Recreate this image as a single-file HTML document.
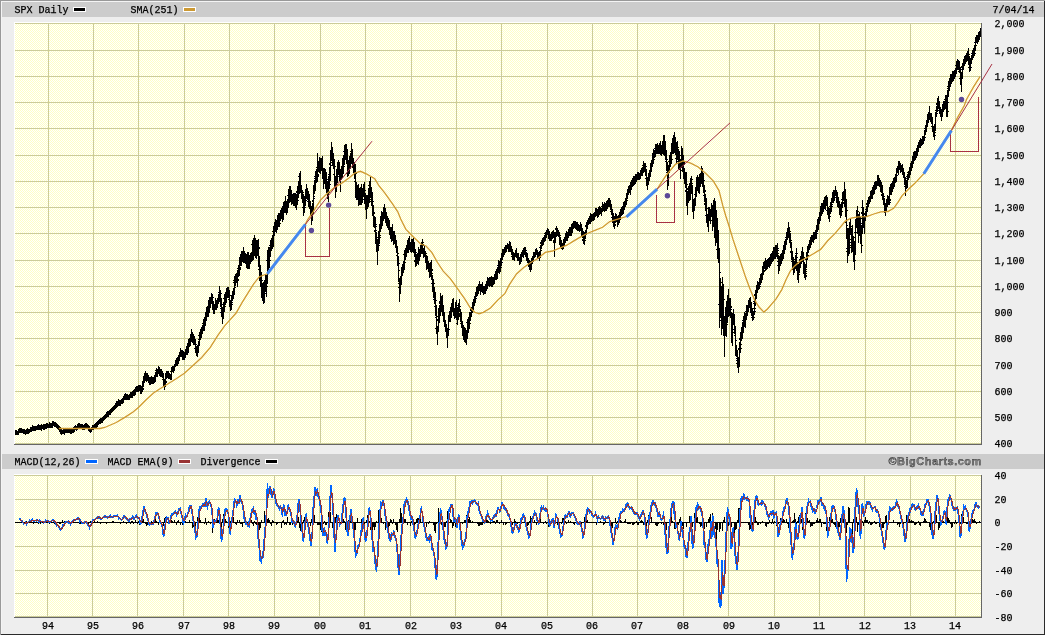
<!DOCTYPE html><html><head><meta charset="utf-8"><title>SPX Daily</title><style>
html,body{margin:0;padding:0;}
body{width:1045px;height:635px;background:#eeeeee;position:relative;overflow:hidden;font-family:"Liberation Mono","DejaVu Sans Mono",monospace;font-size:10px;color:#000;}
div{position:absolute;}
.bt{left:0;top:0;width:1045px;height:1px;background:#999;}
.bl{left:0;top:0;width:1px;height:635px;background:#999;}
.br{left:1044px;top:1px;width:1px;height:634px;background:#2a2a2a;}
.bb{left:1px;top:634px;width:1044px;height:1px;background:#2a2a2a;}
.hl1{left:1px;top:1px;width:1043px;height:1px;background:#f4f4f4;}
.hl2{left:1px;top:1px;width:1px;height:633px;background:#f4f4f4;}
.hdr{left:2px;width:1042px;height:15px;background:#cccccc;}
.plot{left:15px;width:966px;background-color:#ffffe2;background-image:conic-gradient(#fff 25%,#ffffc4 0 50%,#fff 0 75%,#ffffc4 0);background-size:2px 2px;}
.wt{background:#fff;}
.dk{background:#666;}
.t{white-space:pre;line-height:10px;height:10px;-webkit-text-stroke:0.25px #000;}
.gv{width:1px;background:#cccc99;}
.gh{height:1px;background:#cccc99;left:15px;width:966px;}
.sw{width:11px;height:3px;border:1px solid #fff;}
svg{position:absolute;left:0;top:0;}
</style></head><body>
<div class="bt"></div><div class="bl"></div><div class="hl1"></div><div class="hl2"></div><div class="br"></div><div class="bb"></div>
<div class="hdr" style="top:2px"></div><div class="hdr" style="top:454px"></div>
<div class="wt" style="left:14px;top:22px;width:967px;height:1px"></div><div class="wt" style="left:14px;top:22px;width:1px;height:422px"></div>
<div class="plot" style="top:23px;height:421px"></div>
<div class="wt" style="left:14px;top:474px;width:967px;height:1px"></div><div class="wt" style="left:14px;top:474px;width:1px;height:143px"></div>
<div class="plot" style="top:475px;height:142px"></div>
<div class="gv" style="left:48px;top:23px;height:421px"></div>
<div class="gv" style="left:93px;top:23px;height:421px"></div>
<div class="gv" style="left:138px;top:23px;height:421px"></div>
<div class="gv" style="left:184px;top:23px;height:421px"></div>
<div class="gv" style="left:229px;top:23px;height:421px"></div>
<div class="gv" style="left:274px;top:23px;height:421px"></div>
<div class="gv" style="left:320px;top:23px;height:421px"></div>
<div class="gv" style="left:365px;top:23px;height:421px"></div>
<div class="gv" style="left:411px;top:23px;height:421px"></div>
<div class="gv" style="left:456px;top:23px;height:421px"></div>
<div class="gv" style="left:501px;top:23px;height:421px"></div>
<div class="gv" style="left:547px;top:23px;height:421px"></div>
<div class="gv" style="left:592px;top:23px;height:421px"></div>
<div class="gv" style="left:637px;top:23px;height:421px"></div>
<div class="gv" style="left:683px;top:23px;height:421px"></div>
<div class="gv" style="left:729px;top:23px;height:421px"></div>
<div class="gv" style="left:774px;top:23px;height:421px"></div>
<div class="gv" style="left:819px;top:23px;height:421px"></div>
<div class="gv" style="left:865px;top:23px;height:421px"></div>
<div class="gv" style="left:910px;top:23px;height:421px"></div>
<div class="gv" style="left:955px;top:23px;height:421px"></div>
<div class="gv" style="left:47px;top:475px;height:142px"></div>
<div class="gv" style="left:92px;top:475px;height:142px"></div>
<div class="gv" style="left:137px;top:475px;height:142px"></div>
<div class="gv" style="left:183px;top:475px;height:142px"></div>
<div class="gv" style="left:228px;top:475px;height:142px"></div>
<div class="gv" style="left:274px;top:475px;height:142px"></div>
<div class="gv" style="left:319px;top:475px;height:142px"></div>
<div class="gv" style="left:364px;top:475px;height:142px"></div>
<div class="gv" style="left:410px;top:475px;height:142px"></div>
<div class="gv" style="left:455px;top:475px;height:142px"></div>
<div class="gv" style="left:501px;top:475px;height:142px"></div>
<div class="gv" style="left:547px;top:475px;height:142px"></div>
<div class="gv" style="left:592px;top:475px;height:142px"></div>
<div class="gv" style="left:637px;top:475px;height:142px"></div>
<div class="gv" style="left:683px;top:475px;height:142px"></div>
<div class="gv" style="left:728px;top:475px;height:142px"></div>
<div class="gv" style="left:774px;top:475px;height:142px"></div>
<div class="gv" style="left:819px;top:475px;height:142px"></div>
<div class="gv" style="left:864px;top:475px;height:142px"></div>
<div class="gv" style="left:910px;top:475px;height:142px"></div>
<div class="gv" style="left:955px;top:475px;height:142px"></div>
<div class="gh" style="top:23px"></div>
<div class="gh" style="top:50px"></div>
<div class="gh" style="top:76px"></div>
<div class="gh" style="top:102px"></div>
<div class="gh" style="top:128px"></div>
<div class="gh" style="top:155px"></div>
<div class="gh" style="top:181px"></div>
<div class="gh" style="top:207px"></div>
<div class="gh" style="top:233px"></div>
<div class="gh" style="top:260px"></div>
<div class="gh" style="top:286px"></div>
<div class="gh" style="top:312px"></div>
<div class="gh" style="top:338px"></div>
<div class="gh" style="top:365px"></div>
<div class="gh" style="top:391px"></div>
<div class="gh" style="top:417px"></div>
<div class="gh" style="top:443px"></div>
<div class="gh" style="top:475px"></div>
<div class="gh" style="top:499px"></div>
<div class="gh" style="top:522px"></div>
<div class="gh" style="top:546px"></div>
<div class="gh" style="top:570px"></div>
<div class="gh" style="top:593px"></div>
<div class="gh" style="top:616px"></div>
<div class="gv" style="left:14px;top:475px;height:1px"></div>
<div class="dk" style="left:981px;top:23px;width:1px;height:422px"></div><div class="dk" style="left:14px;top:444px;width:968px;height:1px"></div>
<div class="dk" style="left:981px;top:475px;width:1px;height:143px"></div><div class="dk" style="left:14px;top:617px;width:968px;height:1px"></div>
<div class="t" style="left:14.5px;top:6px;">SPX Daily</div>
<div class="sw" style="left:73px;top:7px;background:#000"></div>
<div class="t" style="left:130.5px;top:6px;">SMA(251)</div>
<div class="sw" style="left:183px;top:7px;background:#cc9933"></div>
<div class="t" style="left:992.5px;top:6px;">7/04/14</div>
<div class="t" style="left:14.5px;top:458px;">MACD(12,26)</div>
<div class="t" style="left:107.5px;top:458px;">MACD EMA(9)</div>
<div class="t" style="left:200.5px;top:458px;">Divergence</div>
<div class="sw" style="left:85px;top:459px;background:#0066ff"></div>
<div class="sw" style="left:178px;top:459px;background:#993333"></div>
<div class="sw" style="left:265px;top:459px;background:#000"></div>
<div class="t" style="left:888.5px;top:455px;font-family:'Liberation Sans',Arial,sans-serif;font-weight:bold;font-size:11px;line-height:12px;height:12px;color:#808080;letter-spacing:0.5px">&copy;BigCharts.com</div>
<div class="t" style="left:994.5px;top:20px;">2,000</div>
<div class="t" style="left:994.5px;top:47px;">1,900</div>
<div class="t" style="left:994.5px;top:73px;">1,800</div>
<div class="t" style="left:994.5px;top:99px;">1,700</div>
<div class="t" style="left:994.5px;top:125px;">1,600</div>
<div class="t" style="left:994.5px;top:152px;">1,500</div>
<div class="t" style="left:994.5px;top:178px;">1,400</div>
<div class="t" style="left:994.5px;top:204px;">1,300</div>
<div class="t" style="left:994.5px;top:230px;">1,200</div>
<div class="t" style="left:994.5px;top:257px;">1,100</div>
<div class="t" style="left:994.5px;top:283px;">1,000</div>
<div class="t" style="left:994.5px;top:309px;">900</div>
<div class="t" style="left:994.5px;top:335px;">800</div>
<div class="t" style="left:994.5px;top:362px;">700</div>
<div class="t" style="left:994.5px;top:388px;">600</div>
<div class="t" style="left:994.5px;top:414px;">500</div>
<div class="t" style="left:994.5px;top:440px;">400</div>
<div class="t" style="left:994.5px;top:472px;">40</div>
<div class="t" style="left:994.5px;top:496px;">20</div>
<div class="t" style="left:994.5px;top:519px;">0</div>
<div class="t" style="left:994.5px;top:543px;">-20</div>
<div class="t" style="left:994.5px;top:567px;">-40</div>
<div class="t" style="left:994.5px;top:590px;">-60</div>
<div class="t" style="left:994.5px;top:614px;">-80</div>
<div class="t" style="left:42.0px;top:622px;">94</div>
<div class="t" style="left:87.0px;top:622px;">95</div>
<div class="t" style="left:132.0px;top:622px;">96</div>
<div class="t" style="left:178.0px;top:622px;">97</div>
<div class="t" style="left:223.0px;top:622px;">98</div>
<div class="t" style="left:268.0px;top:622px;">99</div>
<div class="t" style="left:314.0px;top:622px;">00</div>
<div class="t" style="left:359.0px;top:622px;">01</div>
<div class="t" style="left:405.0px;top:622px;">02</div>
<div class="t" style="left:450.0px;top:622px;">03</div>
<div class="t" style="left:495.0px;top:622px;">04</div>
<div class="t" style="left:541.0px;top:622px;">05</div>
<div class="t" style="left:586.0px;top:622px;">06</div>
<div class="t" style="left:631.0px;top:622px;">07</div>
<div class="t" style="left:677.0px;top:622px;">08</div>
<div class="t" style="left:723.0px;top:622px;">09</div>
<div class="t" style="left:768.0px;top:622px;">10</div>
<div class="t" style="left:813.0px;top:622px;">11</div>
<div class="t" style="left:859.0px;top:622px;">12</div>
<div class="t" style="left:904.0px;top:622px;">13</div>
<div class="t" style="left:949.0px;top:622px;">14</div>
<svg width="1045" height="635" viewBox="0 0 1045 635"><path d="M15 430v5h1v-5zM16 430v5h1v-5zM17 431v4h1v-4zM18 429v6h1v-6zM19 428v5h1v-5zM20 428v5h1v-5zM21 428v5h1v-5zM22 429v4h1v-4zM23 429v5h1v-5zM24 429v5h1v-5zM25 430v5h1v-5zM26 429v5h1v-5zM27 428v6h1v-6zM28 429v5h1v-5zM29 429v4h1v-4zM30 427v5h1v-5zM31 427v5h1v-5zM32 425v6h1v-6zM33 426v5h1v-5zM34 426v5h1v-5zM35 426v5h1v-5zM36 426v4h1v-4zM37 425v5h1v-5zM38 424v6h1v-6zM39 425v5h1v-5zM40 425v5h1v-5zM41 424v7h1v-7zM42 425v4h1v-4zM43 424v6h1v-6zM44 424v6h1v-6zM45 424v5h1v-5zM46 423v6h1v-6zM47 423v5h1v-5zM48 424v4h1v-4zM49 422v6h1v-6zM50 423v5h1v-5zM51 423v5h1v-5zM52 421v7h1v-7zM53 421v5h1v-5zM54 422v5h1v-5zM55 422v5h1v-5zM56 423v5h1v-5zM57 424v5h1v-5zM58 425v5h1v-5zM59 426v6h1v-6zM60 427v7h1v-7zM61 429v6h1v-6zM62 430v4h1v-4zM63 429v5h1v-5zM64 429v6h1v-6zM65 429v4h1v-4zM66 429v4h1v-4zM67 428v5h1v-5zM68 428v5h1v-5zM69 428v5h1v-5zM70 429v5h1v-5zM71 429v5h1v-5zM72 428v5h1v-5zM73 427v6h1v-6zM74 426v6h1v-6zM75 425v5h1v-5zM76 426v5h1v-5zM77 424v6h1v-6zM78 423v5h1v-5zM79 423v5h1v-5zM80 424v5h1v-5zM81 424v4h1v-4zM82 424v6h1v-6zM83 425v5h1v-5zM84 424v6h1v-6zM85 423v6h1v-6zM86 423v5h1v-5zM87 424v5h1v-5zM88 425v6h1v-6zM89 426v6h1v-6zM90 428v5h1v-5zM91 427v5h1v-5zM92 425v5h1v-5zM93 425v5h1v-5zM94 424v5h1v-5zM95 423v6h1v-6zM96 422v6h1v-6zM97 421v6h1v-6zM98 420v5h1v-5zM99 419v5h1v-5zM100 418v6h1v-6zM101 418v5h1v-5zM102 417v6h1v-6zM103 416v5h1v-5zM104 415v5h1v-5zM105 414v5h1v-5zM106 412v6h1v-6zM107 411v6h1v-6zM108 411v6h1v-6zM109 410v5h1v-5zM110 409v6h1v-6zM111 408v5h1v-5zM112 407v5h1v-5zM113 406v5h1v-5zM114 405v5h1v-5zM115 403v6h1v-6zM116 401v7h1v-7zM117 401v6h1v-6zM118 399v7h1v-7zM119 400v6h1v-6zM120 400v6h1v-6zM121 399v5h1v-5zM122 398v6h1v-6zM123 396v7h1v-7zM124 394v6h1v-6zM125 393v7h1v-7zM126 394v6h1v-6zM127 394v6h1v-6zM128 395v5h1v-5zM129 394v6h1v-6zM130 392v6h1v-6zM131 392v6h1v-6zM132 391v7h1v-7zM133 390v6h1v-6zM134 389v7h1v-7zM135 387v8h1v-8zM136 386v6h1v-6zM137 386v6h1v-6zM138 385v7h1v-7zM139 385v6h1v-6zM140 385v9h1v-9zM141 386v8h1v-8zM142 381v11h1v-11zM143 376v11h1v-11zM143 388v2h1v-2zM144 373v10h1v-10zM145 371v10h1v-10zM146 373v9h1v-9zM147 373v8h1v-8zM148 375v8h1v-8zM149 377v8h1v-8zM150 377v8h1v-8zM151 376v8h1v-8zM152 377v7h1v-7zM153 377v7h1v-7zM154 375v8h1v-8zM155 370v1h1v-1zM155 372v10h1v-10zM156 368v9h1v-9zM157 369v8h1v-8zM158 366v8h1v-8zM159 367v9h1v-9zM160 369v8h1v-8zM161 369v8h1v-8zM162 371v7h1v-7zM162 379v1h1v-1zM163 373v14h1v-14zM164 379v11h1v-11zM165 373v14h1v-14zM166 371v8h1v-8zM166 381v2h1v-2zM167 371v7h1v-7zM168 371v8h1v-8zM169 373v6h1v-6zM170 371v1h1v-1zM170 374v6h1v-6zM171 367v13h1v-13zM172 366v6h1v-6zM173 366v7h1v-7zM174 364v7h1v-7zM175 360v7h1v-7zM176 358v8h1v-8zM177 357v9h1v-9zM178 355v9h1v-9zM179 352v9h1v-9zM180 348v9h1v-9zM181 350v7h1v-7zM182 350v10h1v-10zM183 351v9h1v-9zM184 352v8h1v-8zM185 349v9h1v-9zM186 346v9h1v-9zM187 343v12h1v-12zM188 339v14h1v-14zM189 338v9h1v-9zM190 334v12h1v-12zM191 329v13h1v-13zM192 332v11h1v-11zM193 334v11h1v-11zM194 336v9h1v-9zM194 348v1h1v-1zM195 339v14h1v-14zM196 344v1h1v-1zM196 346v10h1v-10zM197 345v12h1v-12zM198 335v1h1v-1zM198 339v1h1v-1zM198 341v12h1v-12zM199 332v14h1v-14zM200 329v11h1v-11zM201 327v11h1v-11zM202 323v1h1v-1zM202 325v9h1v-9zM203 319v12h1v-12zM204 317v14h1v-14zM205 312v14h1v-14zM206 307v14h1v-14zM207 306v11h1v-11zM208 300v17h1v-17zM209 297v16h1v-16zM210 297v11h1v-11zM211 293v11h1v-11zM212 294v16h1v-16zM213 297v1h1v-1zM213 301v13h1v-13zM214 304v10h1v-10zM215 298v12h1v-12zM216 300v10h1v-10zM217 298v10h1v-10zM218 292v1h1v-1zM218 294v10h1v-10zM219 286v16h1v-16zM220 290v17h1v-17zM220 308v1h1v-1zM220 312v1h1v-1zM221 293v1h1v-1zM221 298v19h1v-19zM222 304v1h1v-1zM222 307v17h1v-17zM223 298v1h1v-1zM223 302v17h1v-17zM224 294v18h1v-18zM225 292v13h1v-13zM225 306v1h1v-1zM226 288v15h1v-15zM227 287v11h1v-11zM228 287v11h1v-11zM228 299v1h1v-1zM229 290v17h1v-17zM230 295v1h1v-1zM230 300v11h1v-11zM231 295v15h1v-15zM232 291v10h1v-10zM232 302v1h1v-1zM232 304v1h1v-1zM233 280v1h1v-1zM233 282v1h1v-1zM233 288v11h1v-11zM234 276v19h1v-19zM235 274v12h1v-12zM235 287v1h1v-1zM236 273v10h1v-10zM237 268v1h1v-1zM237 270v17h1v-17zM238 265v12h1v-12zM238 279v2h1v-2zM239 257v19h1v-19zM240 254v12h1v-12zM240 267v3h1v-3zM241 251v15h1v-15zM242 251v11h1v-11zM243 247v16h1v-16zM244 251v12h1v-12zM245 253v11h1v-11zM246 254v14h1v-14zM247 252v17h1v-17zM248 252v17h1v-17zM249 255v14h1v-14zM250 253v11h1v-11zM251 244v1h1v-1zM251 252v10h1v-10zM252 240v21h1v-21zM253 238v22h1v-22zM254 235v21h1v-21zM255 238v20h1v-20zM256 240v19h1v-19zM257 240v16h1v-16zM258 239v28h1v-28zM258 269v1h1v-1zM259 247v2h1v-2zM259 256v25h1v-25zM260 265v22h1v-22zM261 272v26h1v-26zM262 280v1h1v-1zM262 283v18h1v-18zM263 282v22h1v-22zM264 280v23h1v-23zM265 274v18h1v-18zM265 293v1h1v-1zM266 260v1h1v-1zM266 275v22h1v-22zM267 250v34h1v-34zM267 286v1h1v-1zM268 247v23h1v-23zM268 272v1h1v-1zM269 245v1h1v-1zM269 247v21h1v-21zM270 240v17h1v-17zM270 260v1h1v-1zM271 238v13h1v-13zM272 231v1h1v-1zM272 235v14h1v-14zM273 226v21h1v-21zM274 222v14h1v-14zM275 219v13h1v-13zM276 220v13h1v-13zM277 215v15h1v-15zM278 213v14h1v-14zM279 213v14h1v-14zM280 210v11h1v-11zM280 223v1h1v-1zM281 208v11h1v-11zM282 206v16h1v-16zM283 202v18h1v-18zM284 201v12h1v-12zM285 196v17h1v-17zM286 201v14h1v-14zM287 195v1h1v-1zM287 199v14h1v-14zM288 189v19h1v-19zM289 186v17h1v-17zM290 186v16h1v-16zM291 190v15h1v-15zM292 194v10h1v-10zM293 193v13h1v-13zM294 193v13h1v-13zM295 193v15h1v-15zM296 191v2h1v-2zM296 194v16h1v-16zM297 186v19h1v-19zM298 176v1h1v-1zM298 181v17h1v-17zM298 200v1h1v-1zM299 173v21h1v-21zM300 171v22h1v-22zM301 185v14h1v-14zM302 190v13h1v-13zM302 207v1h1v-1zM303 192v1h1v-1zM303 194v22h1v-22zM304 196v17h1v-17zM305 189v17h1v-17zM305 207v1h1v-1zM306 184v15h1v-15zM306 200v1h1v-1zM307 188v12h1v-12zM307 201v1h1v-1zM308 191v16h1v-16zM309 194v15h1v-15zM310 201v15h1v-15zM311 206v19h1v-19zM312 200v2h1v-2zM312 203v18h1v-18zM313 185v29h1v-29zM314 176v1h1v-1zM314 178v1h1v-1zM314 180v14h1v-14zM314 196v1h1v-1zM314 198v1h1v-1zM315 171v20h1v-20zM316 167v1h1v-1zM316 169v14h1v-14zM317 153v29h1v-29zM318 161v11h1v-11zM318 174v3h1v-3zM319 157v16h1v-16zM320 158v16h1v-16zM321 158v13h1v-13zM322 156v23h1v-23zM323 168v21h1v-21zM324 168v16h1v-16zM325 169v20h1v-20zM326 172v21h1v-21zM327 179v1h1v-1zM327 181v18h1v-18zM328 174v1h1v-1zM328 176v26h1v-26zM329 163v2h1v-2zM329 167v22h1v-22zM329 192v1h1v-1zM330 150v31h1v-31zM330 184v1h1v-1zM331 142v19h1v-19zM331 162v1h1v-1zM331 165v1h1v-1zM332 147v19h1v-19zM333 153v16h1v-16zM333 174v1h1v-1zM334 159v29h1v-29zM335 166v1h1v-1zM335 176v22h1v-22zM336 169v23h1v-23zM337 162v21h1v-21zM337 184v1h1v-1zM338 160v15h1v-15zM338 176v1h1v-1zM339 162v19h1v-19zM340 169v23h1v-23zM341 166v14h1v-14zM342 158v20h1v-20zM343 151v1h1v-1zM343 155v19h1v-19zM344 145v20h1v-20zM344 166v1h1v-1zM345 144v16h1v-16zM346 144v20h1v-20zM346 173v1h1v-1zM347 149v28h1v-28zM348 160v16h1v-16zM349 156v18h1v-18zM350 151v1h1v-1zM350 153v16h1v-16zM351 143v21h1v-21zM352 149v19h1v-19zM353 158v15h1v-15zM354 162v17h1v-17zM354 181v1h1v-1zM355 164v34h1v-34zM356 173v1h1v-1zM356 182v18h1v-18zM357 185v15h1v-15zM358 184v22h1v-22zM359 188v17h1v-17zM360 187v18h1v-18zM361 184v21h1v-21zM362 188v15h1v-15zM363 184v13h1v-13zM363 199v1h1v-1zM364 182v22h1v-22zM365 190v1h1v-1zM365 193v17h1v-17zM366 195v24h1v-24zM367 195v14h1v-14zM368 185v1h1v-1zM368 188v19h1v-19zM369 181v22h1v-22zM370 177v21h1v-21zM370 199v1h1v-1zM370 201v1h1v-1zM371 187v19h1v-19zM372 192v24h1v-24zM373 201v1h1v-1zM373 205v22h1v-22zM374 212v2h1v-2zM374 216v12h1v-12zM374 230v2h1v-2zM375 217v27h1v-27zM376 224v1h1v-1zM376 226v1h1v-1zM376 230v1h1v-1zM376 232v20h1v-20zM377 237v1h1v-1zM377 239v26h1v-26zM378 231v20h1v-20zM379 224v20h1v-20zM379 245v1h1v-1zM380 216v16h1v-16zM380 235v1h1v-1zM380 237v1h1v-1zM381 211v18h1v-18zM382 212v14h1v-14zM383 207v14h1v-14zM384 204v15h1v-15zM385 208v15h1v-15zM386 212v14h1v-14zM387 216v12h1v-12zM388 218v12h1v-12zM389 220v15h1v-15zM390 227v12h1v-12zM391 227v15h1v-15zM392 224v17h1v-17zM393 231v14h1v-14zM394 231v13h1v-13zM395 235v13h1v-13zM396 240v13h1v-13zM396 255v1h1v-1zM397 246v20h1v-20zM398 253v1h1v-1zM398 256v26h1v-26zM398 283v1h1v-1zM398 287v1h1v-1zM399 263v1h1v-1zM399 270v1h1v-1zM399 278v24h1v-24zM400 276v18h1v-18zM401 267v18h1v-18zM402 264v12h1v-12zM403 254v1h1v-1zM403 261v12h1v-12zM404 250v20h1v-20zM405 248v12h1v-12zM405 262v1h1v-1zM406 245v12h1v-12zM407 240v13h1v-13zM408 238v15h1v-15zM409 236v14h1v-14zM410 242v10h1v-10zM411 239v14h1v-14zM412 239v13h1v-13zM413 238v15h1v-15zM414 242v15h1v-15zM414 260v2h1v-2zM415 249v18h1v-18zM416 252v1h1v-1zM416 254v12h1v-12zM417 253v11h1v-11zM418 247v18h1v-18zM419 249v12h1v-12zM420 245v12h1v-12zM421 242v12h1v-12zM422 239v15h1v-15zM423 242v1h1v-1zM423 244v2h1v-2zM423 248v10h1v-10zM424 246v11h1v-11zM425 251v12h1v-12zM426 253v1h1v-1zM426 255v15h1v-15zM427 256v13h1v-13zM428 261v11h1v-11zM429 263v15h1v-15zM430 262v15h1v-15zM431 260v20h1v-20zM431 283v1h1v-1zM432 269v2h1v-2zM432 273v1h1v-1zM432 275v17h1v-17zM433 279v19h1v-19zM433 299v1h1v-1zM434 283v1h1v-1zM434 287v17h1v-17zM434 306v1h1v-1zM435 292v24h1v-24zM435 317v1h1v-1zM435 328v1h1v-1zM436 300v1h1v-1zM436 305v29h1v-29zM437 316v1h1v-1zM437 319v2h1v-2zM437 326v19h1v-19zM438 308v24h1v-24zM439 301v3h1v-3zM439 305v18h1v-18zM440 293v23h1v-23zM441 296v16h1v-16zM442 295v21h1v-21zM443 305v17h1v-17zM444 312v15h1v-15zM445 320v12h1v-12zM446 324v14h1v-14zM447 328v20h1v-20zM448 315v21h1v-21zM449 311v11h1v-11zM449 329v1h1v-1zM450 307v15h1v-15zM451 303v15h1v-15zM452 299v13h1v-13zM453 298v18h1v-18zM454 308v11h1v-11zM455 302v16h1v-16zM456 300v20h1v-20zM456 323v1h1v-1zM457 305v1h1v-1zM457 307v18h1v-18zM458 303v17h1v-17zM459 299v13h1v-13zM459 313v4h1v-4zM460 306v1h1v-1zM460 309v13h1v-13zM460 323v1h1v-1zM461 312v16h1v-16zM462 321v15h1v-15zM463 325v15h1v-15zM464 327v15h1v-15zM465 328v15h1v-15zM466 322v1h1v-1zM466 330v15h1v-15zM467 319v20h1v-20zM468 317v16h1v-16zM469 312v17h1v-17zM470 309v2h1v-2zM470 312v9h1v-9zM470 323v1h1v-1zM471 307v10h1v-10zM472 302v11h1v-11zM473 299v11h1v-11zM474 296v10h1v-10zM475 292v11h1v-11zM476 287v10h1v-10zM476 298v1h1v-1zM477 286v10h1v-10zM478 284v10h1v-10zM479 281v10h1v-10zM480 284v11h1v-11zM481 284v8h1v-8zM482 282v11h1v-11zM483 286v9h1v-9zM484 286v8h1v-8zM485 284v10h1v-10zM486 281v10h1v-10zM487 277v12h1v-12zM488 278v8h1v-8zM489 277v10h1v-10zM490 277v9h1v-9zM491 276v11h1v-11zM492 277v10h1v-10zM493 277v8h1v-8zM494 274v10h1v-10zM495 271v9h1v-9zM496 269v11h1v-11zM497 265v1h1v-1zM497 267v12h1v-12zM498 260v13h1v-13zM499 261v13h1v-13zM500 258v14h1v-14zM501 253v13h1v-13zM501 267v1h1v-1zM502 249v11h1v-11zM502 262v1h1v-1zM503 249v8h1v-8zM504 247v8h1v-8zM505 245v8h1v-8zM506 245v7h1v-7zM507 243v6h1v-6zM508 244v8h1v-8zM509 241v11h1v-11zM510 242v10h1v-10zM511 246v9h1v-9zM511 256v1h1v-1zM512 249v11h1v-11zM513 252v8h1v-8zM514 253v8h1v-8zM515 250v7h1v-7zM516 248v10h1v-10zM517 253v8h1v-8zM518 253v8h1v-8zM519 257v8h1v-8zM520 254v10h1v-10zM521 252v10h1v-10zM522 250v7h1v-7zM523 248v10h1v-10zM524 247v8h1v-8zM525 247v10h1v-10zM526 250v1h1v-1zM526 252v9h1v-9zM527 253v10h1v-10zM528 258v9h1v-9zM529 260v10h1v-10zM530 261v11h1v-11zM531 258v12h1v-12zM532 256v8h1v-8zM533 252v10h1v-10zM534 252v6h1v-6zM535 249v8h1v-8zM536 248v7h1v-7zM537 250v8h1v-8zM538 252v7h1v-7zM539 247v1h1v-1zM539 251v10h1v-10zM540 242v2h1v-2zM540 245v13h1v-13zM541 240v9h1v-9zM541 250v1h1v-1zM542 238v8h1v-8zM543 237v8h1v-8zM544 233v1h1v-1zM544 235v7h1v-7zM545 232v9h1v-9zM546 230v8h1v-8zM547 228v7h1v-7zM548 229v10h1v-10zM549 231v10h1v-10zM550 234v7h1v-7zM551 232v9h1v-9zM552 231v8h1v-8zM553 230v8h1v-8zM553 240v3h1v-3zM554 232v25h1v-25zM555 228v2h1v-2zM555 232v11h1v-11zM556 226v11h1v-11zM557 228v8h1v-8zM558 230v7h1v-7zM559 232v13h1v-13zM560 235v1h1v-1zM560 237v10h1v-10zM561 240v9h1v-9zM562 243v7h1v-7zM563 239v10h1v-10zM564 237v9h1v-9zM565 233v10h1v-10zM566 231v10h1v-10zM567 232v9h1v-9zM568 229v9h1v-9zM569 227v9h1v-9zM570 227v9h1v-9zM571 224v12h1v-12zM572 223v10h1v-10zM573 221v8h1v-8zM574 221v7h1v-7zM575 221v8h1v-8zM576 222v8h1v-8zM577 222v9h1v-9zM578 224v7h1v-7zM579 225v7h1v-7zM580 222v9h1v-9zM581 224v12h1v-12zM582 228v10h1v-10zM582 239v2h1v-2zM583 231v13h1v-13zM584 232v13h1v-13zM585 225v2h1v-2zM585 230v9h1v-9zM585 240v1h1v-1zM586 222v13h1v-13zM587 220v9h1v-9zM588 218v7h1v-7zM589 216v8h1v-8zM590 213v11h1v-11zM591 214v8h1v-8zM592 214v7h1v-7zM593 213v8h1v-8zM594 212v8h1v-8zM595 208v9h1v-9zM596 208v8h1v-8zM597 209v9h1v-9zM598 207v10h1v-10zM599 206v9h1v-9zM600 207v7h1v-7zM601 206v1h1v-1zM601 208v8h1v-8zM602 202v10h1v-10zM603 204v7h1v-7zM604 202v10h1v-10zM605 203v8h1v-8zM606 201v10h1v-10zM607 200v9h1v-9zM608 198v9h1v-9zM609 198v9h1v-9zM610 200v10h1v-10zM610 211v1h1v-1zM611 204v11h1v-11zM611 217v1h1v-1zM612 209v14h1v-14zM613 213v14h1v-14zM614 216v13h1v-13zM615 213v10h1v-10zM615 224v2h1v-2zM616 214v8h1v-8zM617 216v11h1v-11zM618 215v10h1v-10zM619 212v11h1v-11zM620 209v11h1v-11zM621 207v9h1v-9zM622 206v9h1v-9zM623 202v12h1v-12zM624 201v9h1v-9zM625 198v9h1v-9zM626 193v12h1v-12zM627 189v10h1v-10zM627 200v1h1v-1zM628 186v9h1v-9zM629 185v8h1v-8zM630 182v13h1v-13zM631 180v10h1v-10zM632 178v9h1v-9zM633 176v10h1v-10zM634 176v9h1v-9zM635 174v10h1v-10zM636 174v8h1v-8zM637 172v8h1v-8zM638 172v8h1v-8zM639 173v7h1v-7zM640 170v9h1v-9zM641 168v8h1v-8zM642 165v1h1v-1zM642 167v9h1v-9zM643 161v12h1v-12zM644 163v9h1v-9zM645 163v13h1v-13zM645 178v1h1v-1zM646 166v1h1v-1zM646 169v17h1v-17zM647 177v13h1v-13zM648 173v12h1v-12zM649 170v11h1v-11zM650 163v14h1v-14zM651 160v12h1v-12zM652 153v14h1v-14zM653 149v15h1v-15zM654 148v1h1v-1zM654 150v8h1v-8zM654 159v1h1v-1zM655 144v13h1v-13zM656 144v10h1v-10zM657 143v11h1v-11zM658 145v9h1v-9zM659 143v11h1v-11zM660 141v14h1v-14zM661 145v11h1v-11zM662 141v13h1v-13zM663 135v20h1v-20zM664 135v21h1v-21zM665 141v19h1v-19zM665 161v1h1v-1zM666 150v21h1v-21zM666 172v1h1v-1zM667 159v1h1v-1zM667 162v28h1v-28zM668 161v1h1v-1zM668 165v21h1v-21zM669 155v18h1v-18zM670 152v15h1v-15zM671 143v21h1v-21zM672 138v16h1v-16zM672 159v1h1v-1zM673 135v19h1v-19zM674 132v21h1v-21zM675 137v18h1v-18zM675 158v1h1v-1zM676 142v22h1v-22zM677 141v19h1v-19zM677 161v1h1v-1zM678 147v1h1v-1zM678 149v20h1v-20zM679 151v19h1v-19zM680 155v1h1v-1zM680 159v20h1v-20zM681 146v22h1v-22zM681 170v1h1v-1zM682 148v24h1v-24zM683 155v24h1v-24zM684 162v3h1v-3zM684 168v16h1v-16zM685 172v16h1v-16zM685 190v2h1v-2zM686 172v34h1v-34zM687 184v1h1v-1zM687 188v2h1v-2zM687 191v24h1v-24zM688 186v17h1v-17zM689 183v18h1v-18zM690 178v22h1v-22zM691 176v18h1v-18zM692 179v1h1v-1zM692 183v1h1v-1zM692 185v27h1v-27zM693 199v20h1v-20zM694 194v1h1v-1zM694 198v13h1v-13zM695 187v19h1v-19zM696 177v20h1v-20zM697 175v16h1v-16zM698 177v16h1v-16zM699 174v20h1v-20zM700 173v14h1v-14zM701 166v18h1v-18zM702 168v19h1v-19zM703 173v20h1v-20zM703 195v1h1v-1zM704 180v1h1v-1zM704 185v17h1v-17zM704 203v2h1v-2zM705 190v2h1v-2zM705 194v17h1v-17zM705 215v1h1v-1zM706 198v25h1v-25zM707 208v1h1v-1zM707 214v13h1v-13zM708 207v25h1v-25zM709 207v14h1v-14zM710 209v15h1v-15zM711 203v14h1v-14zM711 220v1h1v-1zM712 205v26h1v-26zM713 200v27h1v-27zM714 198v40h1v-40zM715 201v45h1v-45zM716 210v33h1v-33zM716 249v1h1v-1zM717 218v41h1v-41zM718 230v33h1v-33zM718 304v1h1v-1zM719 248v80h1v-80zM720 272v1h1v-1zM720 278v40h1v-40zM720 320v1h1v-1zM721 282v1h1v-1zM721 286v49h1v-49zM722 277v52h1v-52zM723 284v52h1v-52zM724 299v1h1v-1zM724 316v41h1v-41zM725 307v29h1v-29zM726 301v36h1v-36zM727 295v28h1v-28zM727 324v1h1v-1zM728 289v28h1v-28zM729 298v18h1v-18zM730 298v20h1v-20zM731 306v2h1v-2zM731 309v1h1v-1zM731 312v31h1v-31zM732 313v33h1v-33zM733 309v16h1v-16zM733 329v1h1v-1zM733 332v1h1v-1zM734 314v20h1v-20zM734 335v1h1v-1zM735 326v30h1v-30zM736 340v1h1v-1zM736 345v12h1v-12zM736 358v1h1v-1zM736 360v1h1v-1zM736 363v1h1v-1zM737 350v18h1v-18zM738 348v2h1v-2zM738 357v16h1v-16zM739 338v2h1v-2zM739 342v25h1v-25zM740 332v21h1v-21zM741 327v14h1v-14zM741 344v1h1v-1zM741 348v1h1v-1zM742 320v1h1v-1zM742 322v17h1v-17zM743 316v17h1v-17zM744 312v15h1v-15zM745 311v1h1v-1zM745 313v15h1v-15zM746 305v15h1v-15zM747 305v11h1v-11zM748 300v12h1v-12zM749 298v10h1v-10zM750 297v16h1v-16zM751 302v14h1v-14zM751 317v1h1v-1zM752 308v13h1v-13zM753 301v1h1v-1zM753 303v1h1v-1zM753 308v1h1v-1zM753 311v9h1v-9zM754 294v2h1v-2zM754 299v16h1v-16zM754 317v1h1v-1zM755 290v16h1v-16zM755 308v1h1v-1zM755 311v1h1v-1zM756 285v14h1v-14zM757 281v12h1v-12zM758 282v8h1v-8zM759 278v11h1v-11zM760 274v11h1v-11zM760 286v1h1v-1zM761 273v10h1v-10zM762 266v14h1v-14zM763 262v13h1v-13zM764 261v8h1v-8zM764 270v2h1v-2zM765 258v13h1v-13zM766 260v10h1v-10zM767 259v10h1v-10zM768 258v9h1v-9zM769 257v11h1v-11zM770 254v12h1v-12zM771 253v11h1v-11zM772 251v11h1v-11zM773 247v14h1v-14zM774 247v12h1v-12zM775 245v14h1v-14zM776 245v12h1v-12zM777 243v16h1v-16zM777 261v1h1v-1zM777 265v1h1v-1zM778 248v1h1v-1zM778 250v1h1v-1zM778 253v1h1v-1zM778 255v19h1v-19zM779 256v15h1v-15zM780 254v12h1v-12zM781 253v11h1v-11zM782 250v11h1v-11zM783 245v14h1v-14zM784 241v13h1v-13zM785 237v1h1v-1zM785 239v11h1v-11zM786 232v13h1v-13zM787 228v12h1v-12zM788 222v16h1v-16zM789 227v16h1v-16zM790 231v1h1v-1zM790 233v15h1v-15zM790 251v2h1v-2zM791 240v1h1v-1zM791 242v18h1v-18zM791 261v1h1v-1zM792 251v19h1v-19zM793 257v18h1v-18zM794 259v1h1v-1zM794 261v12h1v-12zM795 253v1h1v-1zM795 255v14h1v-14zM796 248v23h1v-23zM797 253v1h1v-1zM797 257v1h1v-1zM797 262v18h1v-18zM798 264v19h1v-19zM799 259v14h1v-14zM799 274v1h1v-1zM800 256v12h1v-12zM801 251v13h1v-13zM802 247v15h1v-15zM803 252v22h1v-22zM804 257v1h1v-1zM804 262v16h1v-16zM805 259v1h1v-1zM805 264v16h1v-16zM806 252v16h1v-16zM806 269v1h1v-1zM806 271v1h1v-1zM806 273v1h1v-1zM806 275v2h1v-2zM807 246v14h1v-14zM808 244v9h1v-9zM808 255v1h1v-1zM809 240v10h1v-10zM810 237v11h1v-11zM811 235v10h1v-10zM812 235v7h1v-7zM813 232v11h1v-11zM814 232v8h1v-8zM815 230v9h1v-9zM816 225v14h1v-14zM817 219v13h1v-13zM817 233v1h1v-1zM818 217v13h1v-13zM819 212v12h1v-12zM820 206v15h1v-15zM821 203v13h1v-13zM822 203v11h1v-11zM823 200v12h1v-12zM824 197v12h1v-12zM825 196v14h1v-14zM826 195v11h1v-11zM826 210v1h1v-1zM827 197v18h1v-18zM828 207v12h1v-12zM829 206v1h1v-1zM829 208v14h1v-14zM830 202v12h1v-12zM830 216v1h1v-1zM831 198v14h1v-14zM832 192v11h1v-11zM832 204v1h1v-1zM832 206v1h1v-1zM833 190v13h1v-13zM834 190v11h1v-11zM835 186v10h1v-10zM835 197v1h1v-1zM836 190v13h1v-13zM837 192v15h1v-15zM838 197v11h1v-11zM839 201v14h1v-14zM840 204v14h1v-14zM841 199v1h1v-1zM841 202v14h1v-14zM842 192v16h1v-16zM842 211v1h1v-1zM843 191v10h1v-10zM843 202v2h1v-2zM844 182v25h1v-25zM845 189v28h1v-28zM845 222v1h1v-1zM846 199v40h1v-40zM846 248v1h1v-1zM846 251v1h1v-1zM847 210v1h1v-1zM847 225v1h1v-1zM847 228v35h1v-35zM848 228v28h1v-28zM849 222v32h1v-32zM850 219v16h1v-16zM850 239v1h1v-1zM850 242v1h1v-1zM850 245v1h1v-1zM850 247v1h1v-1zM851 226v1h1v-1zM851 228v25h1v-25zM852 225v27h1v-27zM853 236v26h1v-26zM854 232v1h1v-1zM854 237v1h1v-1zM854 241v29h1v-29zM855 217v1h1v-1zM855 219v36h1v-36zM855 260v1h1v-1zM856 210v18h1v-18zM856 232v1h1v-1zM857 206v28h1v-28zM858 211v1h1v-1zM858 214v29h1v-29zM859 212v24h1v-24zM860 217v27h1v-27zM861 207v1h1v-1zM861 212v2h1v-2zM861 218v1h1v-1zM861 223v1h1v-1zM861 225v28h1v-28zM862 200v34h1v-34zM862 245v1h1v-1zM863 207v21h1v-21zM864 213v2h1v-2zM864 216v18h1v-18zM865 209v1h1v-1zM865 211v10h1v-10zM866 203v2h1v-2zM866 206v11h1v-11zM867 200v12h1v-12zM868 197v10h1v-10zM869 196v8h1v-8zM870 191v11h1v-11zM871 190v9h1v-9zM872 187v12h1v-12zM873 185v10h1v-10zM874 182v12h1v-12zM875 181v9h1v-9zM876 181v8h1v-8zM877 175v11h1v-11zM878 175v11h1v-11zM879 178v9h1v-9zM880 180v12h1v-12zM881 182v11h1v-11zM881 194v2h1v-2zM882 185v15h1v-15zM883 193v12h1v-12zM884 196v1h1v-1zM884 198v15h1v-15zM885 203v13h1v-13zM886 199v12h1v-12zM887 195v12h1v-12zM888 196v9h1v-9zM889 187v18h1v-18zM890 184v11h1v-11zM890 199v2h1v-2zM890 202v1h1v-1zM891 183v12h1v-12zM892 181v11h1v-11zM893 178v11h1v-11zM894 177v10h1v-10zM895 174v9h1v-9zM896 168v14h1v-14zM897 166v7h1v-7zM897 175v1h1v-1zM898 161v14h1v-14zM899 161v9h1v-9zM900 163v10h1v-10zM901 165v7h1v-7zM902 164v11h1v-11zM903 168v10h1v-10zM904 172v13h1v-13zM904 186v1h1v-1zM905 177v19h1v-19zM906 176v1h1v-1zM906 178v1h1v-1zM906 180v9h1v-9zM907 172v1h1v-1zM907 174v14h1v-14zM908 171v9h1v-9zM909 167v11h1v-11zM910 163v12h1v-12zM911 161v10h1v-10zM912 156v12h1v-12zM913 152v12h1v-12zM914 151v10h1v-10zM915 151v9h1v-9zM916 148v10h1v-10zM917 145v11h1v-11zM918 142v10h1v-10zM919 140v8h1v-8zM920 138v10h1v-10zM921 139v7h1v-7zM922 136v9h1v-9zM923 136v8h1v-8zM924 128v1h1v-1zM924 130v11h1v-11zM925 125v10h1v-10zM925 137v1h1v-1zM926 120v12h1v-12zM927 114v13h1v-13zM928 112v11h1v-11zM929 106v14h1v-14zM930 113v9h1v-9zM931 113v11h1v-11zM931 126v1h1v-1zM932 117v15h1v-15zM933 126v11h1v-11zM934 124v16h1v-16zM935 110v1h1v-1zM935 112v19h1v-19zM935 132v1h1v-1zM935 135v1h1v-1zM936 103v2h1v-2zM936 106v11h1v-11zM937 98v14h1v-14zM937 113v1h1v-1zM938 96v13h1v-13zM938 110v1h1v-1zM939 101v13h1v-13zM940 107v10h1v-10zM941 109v12h1v-12zM942 104v13h1v-13zM943 101v11h1v-11zM944 99v1h1v-1zM944 101v9h1v-9zM945 95v14h1v-14zM946 95v22h1v-22zM947 86v1h1v-1zM947 88v1h1v-1zM947 90v27h1v-27zM948 81v16h1v-16zM948 102v1h1v-1zM948 111v1h1v-1zM949 78v13h1v-13zM950 74v13h1v-13zM951 74v10h1v-10zM952 71v11h1v-11zM953 71v10h1v-10zM954 70v9h1v-9zM955 65v1h1v-1zM955 68v9h1v-9zM956 61v13h1v-13zM957 59v11h1v-11zM958 60v10h1v-10zM958 71v1h1v-1zM959 61v12h1v-12zM959 78v1h1v-1zM960 67v18h1v-18zM961 66v2h1v-2zM961 69v1h1v-1zM961 72v20h1v-20zM962 63v16h1v-16zM963 59v11h1v-11zM964 56v10h1v-10zM965 55v9h1v-9zM966 53v9h1v-9zM967 51v10h1v-10zM968 48v17h1v-17zM968 67v1h1v-1zM969 54v1h1v-1zM969 56v16h1v-16zM970 58v13h1v-13zM971 53v1h1v-1zM971 55v9h1v-9zM971 67v1h1v-1zM972 50v10h1v-10zM973 48v10h1v-10zM974 42v1h1v-1zM974 45v11h1v-11zM975 37v14h1v-14zM975 53v1h1v-1zM976 35v8h1v-8zM976 45v1h1v-1zM977 35v9h1v-9zM978 32v10h1v-10zM979 31v9h1v-9zM980 28v9h1v-9z" fill="#000" shape-rendering="crispEdges"/>
<polyline points="58.8,428.5 100.0,428.5 104.7,427.5 116.2,422.5 124.8,417.4 133.4,411.7 139.2,406.7 146.4,399.5 153.5,393.0 160.0,388.7 175.8,379.0 184.4,373.2 193.0,365.4 201.7,357.5 210.3,347.4 217.5,335.9 224.6,325.9 230.4,319.4 236.1,313.0 241.9,302.9 246.5,295.4 253.7,283.9 259.4,276.7 267.3,273.8 305.4,224.3 307.4,220.0 313.1,211.8 320.3,200.3 327.5,193.2 334.6,187.4 341.8,183.1 349.0,178.1 354.7,173.1 360.5,171.3 366.2,173.8 374.8,178.8 379.1,186.0 384.9,193.2 392.0,203.2 397.8,211.8 400.7,219.0 405.9,229.4 411.7,235.2 420.3,243.8 426.0,246.0 431.8,252.4 437.5,262.5 443.2,271.1 450.3,278.6 457.5,288.7 464.6,298.7 470.4,308.0 474.7,312.3 479.0,313.8 483.3,312.3 490.5,308.0 497.7,300.1 504.8,293.7 509.4,284.7 516.5,273.9 523.7,267.5 530.9,262.5 538.1,258.2 545.2,252.4 552.4,251.0 559.6,248.1 566.8,245.2 573.9,240.9 581.1,236.6 588.3,233.0 595.5,230.2 602.6,227.3 609.8,221.6 617.0,219.4 626.4,216.5 657.1,189.1 666.1,175.5 675.6,164.1 683.1,160.9 690.7,163.2 698.2,167.0 705.8,173.6 713.4,181.1 719.0,190.6 722.8,205.7 725.8,216.0 728.7,225.0 733.0,239.4 737.3,252.3 741.6,265.2 745.9,278.1 750.2,289.6 754.5,299.6 758.8,306.8 763.9,312.1 767.5,309.0 771.8,303.9 776.1,298.9 781.8,289.6 786.1,279.5 790.4,270.9 794.7,265.9 800.5,260.9 806.2,258.0 813.4,253.7 820.6,249.4 827.7,240.8 834.9,233.6 845.4,221.1 851.1,218.0 858.2,216.8 866.7,216.6 873.8,214.0 880.8,211.9 887.9,211.5 893.6,208.3 897.8,202.7 902.1,195.6 909.2,188.5 914.6,183.6 923.8,173.7 951.4,130.5 957.1,118.4 964.2,105.7 966.6,99.3 973.7,86.6 980.0,76.7" fill="none" stroke="#d09a30" stroke-width="1.3"/>
<polyline points="305.5,224.3 305.5,256.5 329.5,256.5 329.5,207.5" fill="none" stroke="#a83344" stroke-width="1" shape-rendering="crispEdges"/>
<polyline points="656.5,195.3 656.5,222.5 674.5,222.5 674.5,181.1" fill="none" stroke="#a83344" stroke-width="1" shape-rendering="crispEdges"/>
<polyline points="950.5,130.5 950.5,151.5 978.5,151.5 978.5,96.5" fill="none" stroke="#a83344" stroke-width="1" shape-rendering="crispEdges"/>
<line x1="305.4" y1="224.3" x2="372.0" y2="141.2" stroke="#a83344" stroke-width="1"/>
<line x1="657.1" y1="189.1" x2="730.0" y2="122.9" stroke="#a83344" stroke-width="1"/>
<line x1="951.4" y1="130.5" x2="992.0" y2="64.0" stroke="#a83344" stroke-width="1"/>
<line x1="267.3" y1="273.8" x2="305.4" y2="224.3" stroke="#4488ee" stroke-width="3"/>
<line x1="626.4" y1="217.0" x2="657.1" y2="189.1" stroke="#4488ee" stroke-width="3"/>
<line x1="923.8" y1="173.7" x2="951.4" y2="130.5" stroke="#4488ee" stroke-width="3"/>
<circle cx="311.4" cy="230.5" r="2.7" fill="#5c4898"/>
<circle cx="328.6" cy="205.1" r="2.7" fill="#5c4898"/>
<circle cx="667.4" cy="195.7" r="2.7" fill="#5c4898"/>
<circle cx="961.5" cy="99.5" r="2.7" fill="#5c4898"/>
<path d="M25 521v1h1v-1zM26 521v1h1v-1zM31 521v1h1v-1zM33 523v1h1v-1zM38 523v1h1v-1zM39 521v1h1v-1zM40 523v1h1v-1zM49 523v1h1v-1zM51 521v1h1v-1zM54 523v1h1v-1zM55 523v1h1v-1zM56 523v1h1v-1zM59 523v1h1v-1zM60 523v1h1v-1zM62 520v2h1v-2zM64 521v1h1v-1zM65 521v1h1v-1zM67 521v1h1v-1zM71 521v1h1v-1zM72 521v1h1v-1zM79 523v1h1v-1zM80 523v1h1v-1zM81 523v1h1v-1zM86 523v1h1v-1zM87 523v1h1v-1zM88 523v1h1v-1zM90 521v1h1v-1zM92 520v2h1v-2zM94 521v1h1v-1zM97 521v1h1v-1zM100 523v1h1v-1zM106 523v1h1v-1zM112 521v1h1v-1zM113 521v1h1v-1zM120 523v1h1v-1zM123 521v1h1v-1zM126 523v1h1v-1zM129 521v1h1v-1zM130 523v1h1v-1zM131 521v1h1v-1zM132 521v1h1v-1zM133 523v1h1v-1zM135 520v2h1v-2zM137 523v1h1v-1zM138 521v1h1v-1zM139 523v2h1v-2zM140 523v1h1v-1zM141 520v2h1v-2zM142 518v4h1v-4zM143 519v3h1v-3zM145 523v1h1v-1zM146 523v3h1v-3zM147 523v2h1v-2zM151 521v1h1v-1zM153 521v1h1v-1zM154 520v2h1v-2zM155 519v3h1v-3zM156 521v1h1v-1zM158 523v2h1v-2zM161 523v1h1v-1zM163 523v3h1v-3zM164 518v4h1v-4zM165 517v5h1v-5zM166 520v2h1v-2zM168 523v1h1v-1zM170 518v4h1v-4zM171 520v2h1v-2zM172 521v1h1v-1zM174 520v2h1v-2zM176 523v2h1v-2zM177 521v1h1v-1zM178 520v2h1v-2zM180 523v2h1v-2zM182 523v2h1v-2zM183 523v1h1v-1zM184 520v2h1v-2zM185 521v1h1v-1zM189 520v2h1v-2zM192 523v5h1v-5zM193 523v4h1v-4zM194 523v3h1v-3zM195 523v5h1v-5zM197 517v5h1v-5zM199 517v5h1v-5zM200 520v2h1v-2zM204 523v1h1v-1zM205 518v4h1v-4zM206 523v2h1v-2zM208 521v1h1v-1zM210 523v1h1v-1zM212 523v10h1v-10zM214 519v3h1v-3zM215 521v1h1v-1zM216 520v2h1v-2zM217 519v3h1v-3zM218 520v2h1v-2zM220 523v11h1v-11zM221 523v5h1v-5zM222 519v3h1v-3zM223 514v8h1v-8zM224 513v9h1v-9zM225 519v3h1v-3zM226 521v1h1v-1zM228 523v5h1v-5zM229 523v8h1v-8zM230 521v1h1v-1zM231 518v4h1v-4zM233 517v5h1v-5zM235 523v1h1v-1zM236 523v2h1v-2zM237 520v2h1v-2zM239 520v2h1v-2zM240 523v1h1v-1zM241 523v1h1v-1zM242 523v4h1v-4zM245 523v2h1v-2zM247 523v1h1v-1zM249 519v3h1v-3zM250 518v4h1v-4zM251 520v2h1v-2zM252 523v1h1v-1zM253 523v3h1v-3zM254 521v1h1v-1zM255 523v1h1v-1zM256 523v2h1v-2zM257 523v11h1v-11zM258 523v10h1v-10zM259 523v7h1v-7zM260 523v5h1v-5zM261 520v2h1v-2zM264 511v11h1v-11zM267 519v3h1v-3zM268 518v4h1v-4zM269 520v2h1v-2zM270 523v1h1v-1zM271 523v3h1v-3zM272 520v2h1v-2zM273 521v1h1v-1zM276 523v2h1v-2zM277 523v1h1v-1zM281 523v5h1v-5zM282 521v1h1v-1zM283 520v2h1v-2zM284 523v2h1v-2zM285 523v1h1v-1zM286 523v2h1v-2zM287 517v5h1v-5zM289 523v2h1v-2zM290 523v2h1v-2zM292 523v2h1v-2zM293 521v1h1v-1zM294 523v2h1v-2zM296 519v3h1v-3zM297 516v6h1v-6zM298 517v5h1v-5zM299 523v5h1v-5zM300 523v8h1v-8zM301 523v5h1v-5zM302 523v7h1v-7zM303 520v2h1v-2zM304 517v5h1v-5zM305 514v8h1v-8zM310 523v3h1v-3zM311 519v3h1v-3zM312 507v15h1v-15zM313 513v9h1v-9zM314 515v7h1v-7zM317 523v2h1v-2zM318 523v2h1v-2zM319 523v2h1v-2zM320 523v7h1v-7zM321 523v9h1v-9zM322 523v8h1v-8zM323 523v1h1v-1zM324 521v1h1v-1zM325 523v2h1v-2zM326 523v2h1v-2zM328 512v10h1v-10zM330 512v10h1v-10zM332 523v5h1v-5zM333 523v13h1v-13zM334 523v14h1v-14zM335 517v5h1v-5zM336 514v8h1v-8zM337 516v6h1v-6zM341 519v3h1v-3zM342 515v7h1v-7zM343 519v3h1v-3zM344 521v1h1v-1zM345 523v7h1v-7zM346 523v8h1v-8zM347 523v7h1v-7zM348 520v2h1v-2zM349 517v5h1v-5zM350 514v8h1v-8zM352 523v5h1v-5zM353 523v4h1v-4zM354 523v11h1v-11zM355 523v7h1v-7zM357 518v4h1v-4zM361 519v3h1v-3zM362 519v3h1v-3zM363 523v5h1v-5zM364 523v7h1v-7zM366 520v2h1v-2zM367 515v7h1v-7zM369 521v1h1v-1zM370 523v7h1v-7zM371 523v11h1v-11zM372 523v10h1v-10zM373 523v4h1v-4zM374 523v7h1v-7zM375 523v4h1v-4zM376 521v1h1v-1zM378 510v12h1v-12zM379 509v13h1v-13zM380 513v9h1v-9zM381 518v4h1v-4zM383 523v1h1v-1zM385 523v7h1v-7zM386 523v2h1v-2zM387 523v2h1v-2zM388 523v6h1v-6zM389 523v3h1v-3zM390 519v3h1v-3zM391 520v2h1v-2zM392 523v1h1v-1zM393 519v3h1v-3zM395 523v2h1v-2zM396 523v7h1v-7zM397 523v9h1v-9zM399 519v3h1v-3zM400 508v14h1v-14zM401 513v9h1v-9zM403 513v9h1v-9zM404 519v3h1v-3zM405 519v3h1v-3zM407 523v2h1v-2zM410 523v3h1v-3zM411 521v1h1v-1zM413 523v6h1v-6zM414 523v6h1v-6zM415 523v1h1v-1zM416 519v3h1v-3zM417 518v4h1v-4zM418 518v4h1v-4zM419 519v3h1v-3zM420 518v4h1v-4zM423 523v4h1v-4zM424 523v4h1v-4zM426 523v4h1v-4zM428 523v1h1v-1zM429 521v1h1v-1zM433 523v2h1v-2zM434 523v8h1v-8zM435 523v10h1v-10zM436 523v1h1v-1zM438 508v14h1v-14zM440 517v5h1v-5zM441 523v2h1v-2zM442 523v6h1v-6zM443 523v5h1v-5zM444 523v4h1v-4zM445 523v4h1v-4zM446 521v1h1v-1zM447 511v11h1v-11zM448 513v9h1v-9zM450 519v3h1v-3zM451 520v2h1v-2zM452 523v5h1v-5zM453 523v3h1v-3zM455 523v4h1v-4zM457 519v3h1v-3zM459 523v4h1v-4zM462 523v1h1v-1zM464 520v2h1v-2zM465 520v2h1v-2zM466 515v7h1v-7zM467 515v7h1v-7zM468 519v3h1v-3zM469 517v5h1v-5zM470 520v2h1v-2zM472 521v1h1v-1zM477 523v1h1v-1zM478 523v3h1v-3zM479 523v3h1v-3zM480 523v2h1v-2zM481 523v2h1v-2zM482 523v2h1v-2zM485 519v3h1v-3zM486 520v2h1v-2zM487 520v2h1v-2zM488 521v1h1v-1zM490 523v1h1v-1zM493 521v1h1v-1zM494 521v1h1v-1zM495 523v1h1v-1zM496 520v2h1v-2zM497 520v2h1v-2zM499 523v1h1v-1zM501 520v2h1v-2zM503 523v2h1v-2zM505 523v2h1v-2zM506 523v1h1v-1zM510 523v3h1v-3zM511 523v4h1v-4zM512 523v2h1v-2zM514 519v3h1v-3zM515 521v1h1v-1zM516 523v2h1v-2zM517 523v1h1v-1zM520 519v3h1v-3zM525 523v4h1v-4zM526 523v3h1v-3zM527 523v3h1v-3zM528 523v2h1v-2zM529 521v1h1v-1zM530 516v6h1v-6zM531 518v4h1v-4zM532 520v2h1v-2zM534 520v2h1v-2zM536 523v2h1v-2zM538 523v1h1v-1zM540 518v4h1v-4zM543 523v1h1v-1zM545 521v1h1v-1zM546 523v1h1v-1zM548 523v4h1v-4zM549 523v3h1v-3zM550 521v1h1v-1zM552 520v2h1v-2zM553 523v4h1v-4zM554 521v1h1v-1zM555 517v5h1v-5zM557 523v2h1v-2zM558 523v5h1v-5zM559 523v5h1v-5zM561 523v1h1v-1zM562 518v4h1v-4zM563 518v4h1v-4zM565 521v1h1v-1zM566 523v1h1v-1zM568 520v2h1v-2zM570 521v1h1v-1zM573 523v1h1v-1zM574 523v2h1v-2zM580 523v2h1v-2zM581 523v3h1v-3zM584 517v5h1v-5zM585 517v5h1v-5zM586 518v4h1v-4zM587 520v2h1v-2zM596 523v2h1v-2zM600 521v1h1v-1zM603 523v2h1v-2zM604 523v1h1v-1zM605 521v1h1v-1zM609 523v3h1v-3zM610 523v4h1v-4zM611 523v4h1v-4zM612 523v5h1v-5zM615 518v4h1v-4zM616 523v1h1v-1zM617 521v1h1v-1zM618 517v5h1v-5zM619 519v3h1v-3zM620 520v2h1v-2zM621 521v1h1v-1zM624 521v1h1v-1zM625 519v3h1v-3zM627 523v1h1v-1zM628 523v1h1v-1zM629 523v1h1v-1zM630 523v1h1v-1zM632 523v2h1v-2zM633 523v2h1v-2zM634 523v1h1v-1zM636 521v1h1v-1zM637 523v2h1v-2zM638 523v2h1v-2zM640 521v1h1v-1zM641 520v2h1v-2zM642 521v1h1v-1zM643 523v2h1v-2zM645 523v7h1v-7zM646 523v4h1v-4zM647 520v2h1v-2zM648 515v7h1v-7zM651 517v5h1v-5zM655 523v2h1v-2zM656 523v3h1v-3zM657 523v3h1v-3zM658 523v1h1v-1zM661 523v1h1v-1zM663 523v2h1v-2zM664 523v6h1v-6zM665 523v10h1v-10zM666 523v7h1v-7zM670 514v8h1v-8zM671 516v6h1v-6zM672 521v1h1v-1zM674 523v6h1v-6zM675 523v6h1v-6zM677 523v2h1v-2zM678 523v2h1v-2zM679 519v3h1v-3zM680 517v5h1v-5zM682 523v3h1v-3zM683 523v6h1v-6zM686 523v4h1v-4zM689 516v6h1v-6zM690 520v2h1v-2zM691 523v10h1v-10zM692 523v4h1v-4zM694 513v9h1v-9zM695 510v12h1v-12zM696 517v5h1v-5zM697 517v5h1v-5zM699 523v1h1v-1zM700 523v4h1v-4zM701 523v3h1v-3zM702 523v5h1v-5zM703 523v10h1v-10zM704 523v6h1v-6zM706 523v4h1v-4zM708 519v3h1v-3zM709 517v5h1v-5zM710 514v8h1v-8zM711 523v7h1v-7zM712 513v9h1v-9zM713 523v6h1v-6zM715 523v6h1v-6zM716 523v16h1v-16zM717 523v7h1v-7zM719 523v9h1v-9zM720 523v6h1v-6zM722 523v8h1v-8zM723 520v2h1v-2zM724 517v5h1v-5zM728 523v3h1v-3zM729 523v2h1v-2zM731 523v4h1v-4zM734 523v12h1v-12zM735 523v7h1v-7zM736 523v6h1v-6zM737 520v2h1v-2zM738 508v14h1v-14zM739 508v14h1v-14zM740 512v10h1v-10zM748 523v2h1v-2zM749 523v7h1v-7zM750 523v6h1v-6zM751 523v7h1v-7zM752 523v3h1v-3zM753 514v8h1v-8zM754 514v8h1v-8zM755 517v5h1v-5zM756 521v1h1v-1zM757 523v2h1v-2zM758 523v2h1v-2zM760 523v1h1v-1zM762 521v1h1v-1zM765 523v3h1v-3zM766 523v4h1v-4zM767 523v1h1v-1zM768 523v1h1v-1zM769 520v2h1v-2zM771 523v1h1v-1zM772 519v3h1v-3zM773 523v1h1v-1zM774 521v1h1v-1zM776 523v3h1v-3zM777 523v8h1v-8zM778 523v1h1v-1zM780 518v4h1v-4zM782 519v3h1v-3zM783 519v3h1v-3zM784 520v2h1v-2zM786 519v3h1v-3zM787 523v1h1v-1zM788 523v5h1v-5zM790 523v10h1v-10zM792 521v1h1v-1zM793 520v2h1v-2zM794 513v9h1v-9zM795 519v3h1v-3zM796 523v5h1v-5zM797 521v1h1v-1zM798 517v5h1v-5zM799 515v7h1v-7zM800 518v4h1v-4zM801 519v3h1v-3zM802 523v7h1v-7zM803 523v9h1v-9zM805 513v9h1v-9zM806 514v8h1v-8zM807 518v4h1v-4zM808 521v1h1v-1zM809 520v2h1v-2zM810 523v4h1v-4zM811 523v3h1v-3zM812 523v3h1v-3zM813 523v1h1v-1zM814 523v1h1v-1zM816 520v2h1v-2zM817 518v4h1v-4zM818 521v1h1v-1zM819 519v3h1v-3zM820 519v3h1v-3zM821 523v4h1v-4zM823 523v1h1v-1zM824 523v1h1v-1zM825 523v1h1v-1zM826 523v8h1v-8zM827 523v6h1v-6zM829 517v5h1v-5zM830 519v3h1v-3zM831 515v7h1v-7zM832 519v3h1v-3zM833 523v1h1v-1zM834 523v2h1v-2zM835 523v4h1v-4zM836 523v6h1v-6zM837 523v3h1v-3zM838 523v4h1v-4zM839 523v4h1v-4zM840 518v4h1v-4zM842 517v5h1v-5zM843 519v3h1v-3zM844 523v4h1v-4zM845 523v19h1v-19zM846 523v10h1v-10zM847 523v2h1v-2zM848 507v15h1v-15zM849 508v14h1v-14zM852 523v11h1v-11zM853 519v3h1v-3zM854 509v13h1v-13zM856 517v5h1v-5zM857 523v9h1v-9zM858 523v2h1v-2zM860 523v5h1v-5zM861 512v10h1v-10zM862 521v1h1v-1zM863 523v3h1v-3zM864 520v2h1v-2zM865 517v5h1v-5zM866 520v2h1v-2zM867 520v2h1v-2zM868 523v1h1v-1zM869 521v1h1v-1zM870 523v2h1v-2zM871 523v2h1v-2zM872 523v1h1v-1zM874 521v1h1v-1zM875 523v1h1v-1zM876 523v1h1v-1zM879 523v4h1v-4zM882 523v5h1v-5zM883 523v5h1v-5zM884 523v1h1v-1zM885 516v6h1v-6zM886 515v7h1v-7zM888 517v5h1v-5zM893 520v2h1v-2zM897 523v2h1v-2zM898 523v1h1v-1zM899 523v4h1v-4zM900 523v1h1v-1zM903 523v5h1v-5zM906 515v7h1v-7zM908 518v4h1v-4zM909 519v3h1v-3zM910 521v1h1v-1zM911 520v2h1v-2zM912 521v1h1v-1zM913 521v1h1v-1zM914 523v2h1v-2zM915 523v2h1v-2zM916 523v1h1v-1zM918 521v1h1v-1zM919 523v2h1v-2zM920 523v3h1v-3zM923 521v1h1v-1zM924 518v4h1v-4zM925 519v3h1v-3zM926 521v1h1v-1zM929 523v4h1v-4zM930 523v7h1v-7zM931 523v6h1v-6zM932 523v5h1v-5zM933 521v1h1v-1zM934 512v10h1v-10zM935 513v9h1v-9zM936 515v7h1v-7zM938 523v7h1v-7zM939 523v5h1v-5zM940 523v3h1v-3zM942 520v2h1v-2zM943 521v1h1v-1zM946 516v6h1v-6zM947 515v7h1v-7zM948 518v4h1v-4zM949 520v2h1v-2zM950 523v1h1v-1zM951 523v5h1v-5zM952 523v4h1v-4zM954 523v1h1v-1zM955 520v2h1v-2zM956 523v1h1v-1zM959 523v8h1v-8zM960 523v1h1v-1zM961 514v8h1v-8zM962 516v6h1v-6zM963 517v5h1v-5zM966 523v1h1v-1zM967 523v1h1v-1zM969 523v1h1v-1zM972 519v3h1v-3zM973 520v2h1v-2zM974 519v3h1v-3zM975 521v1h1v-1zM976 523v1h1v-1zM979 521v1h1v-1z" fill="#000" shape-rendering="crispEdges"/>
<rect x="15" y="522" width="966" height="1" fill="#000" shape-rendering="crispEdges"/>
<polyline points="19.8,520.2 20.1,519.0 20.5,519.8 20.8,520.5 21.2,520.7 21.6,521.0 21.9,520.8 22.3,521.8 22.6,521.7 23.0,523.0 23.4,523.4 23.7,523.8 24.1,523.5 24.4,523.4 24.8,523.5 25.2,523.3 25.5,522.7 25.9,522.0 26.2,523.0 26.6,524.2 27.0,522.5 27.3,523.0 27.7,522.4 28.0,522.1 28.4,521.8 28.8,522.0 29.1,521.2 29.5,520.5 29.8,520.1 30.2,520.6 30.6,521.3 30.9,521.3 31.3,521.2 31.6,520.8 32.0,519.7 32.4,519.1 32.7,519.7 33.1,520.1 33.5,520.3 33.8,521.0 34.2,521.2 34.5,520.5 34.9,520.2 35.3,520.7 35.6,520.4 36.0,520.9 36.3,520.1 36.7,519.8 37.1,519.9 37.4,519.7 37.8,520.5 38.1,520.9 38.5,521.0 38.9,522.0 39.2,521.8 39.6,522.2 39.9,520.7 40.3,521.5 40.7,521.7 41.0,522.0 41.4,522.0 41.7,522.4 42.1,521.6 42.5,521.6 42.8,521.3 43.2,522.1 43.5,522.7 43.9,522.4 44.3,522.4 44.6,521.8 45.0,522.1 45.3,521.2 45.7,520.4 46.1,521.4 46.4,520.8 46.8,520.9 47.1,521.2 47.5,520.9 47.9,521.1 48.2,521.6 48.6,520.7 48.9,520.9 49.3,521.7 49.7,521.9 50.0,522.2 50.4,521.7 50.7,521.8 51.1,521.2 51.5,521.2 51.8,520.5 52.2,519.9 52.5,519.8 52.9,520.4 53.3,520.8 53.6,520.1 54.0,520.4 54.3,520.9 54.7,521.9 55.1,522.2 55.4,522.7 55.8,522.9 56.1,524.3 56.5,525.1 56.9,525.8 57.2,525.5 57.6,525.5 57.9,525.7 58.3,526.0 58.7,526.9 59.0,526.9 59.4,527.9 59.7,529.1 60.1,529.2 60.5,529.2 60.8,529.9 61.2,529.6 61.5,528.8 61.9,528.4 62.3,526.7 62.6,526.1 63.0,525.0 63.3,525.1 63.7,525.3 64.1,524.6 64.4,523.1 64.8,522.4 65.1,522.4 65.5,522.8 65.9,522.1 66.2,522.1 66.6,521.8 66.9,522.2 67.3,521.4 67.7,521.2 68.0,521.3 68.4,522.2 68.8,521.0 69.1,522.2 69.5,522.6 69.8,522.7 70.2,523.6 70.6,524.4 70.9,523.4 71.3,522.3 71.6,522.2 72.0,521.8 72.4,521.9 72.7,521.1 73.1,520.7 73.4,520.7 73.8,520.1 74.2,519.3 74.5,519.5 74.9,519.8 75.2,519.5 75.6,520.0 76.0,519.5 76.3,518.9 76.7,519.2 77.0,519.3 77.4,518.3 77.8,518.1 78.1,518.3 78.5,518.2 78.8,518.6 79.2,520.0 79.6,521.3 79.9,520.7 80.3,520.3 80.6,521.6 81.0,521.4 81.4,522.1 81.7,522.8 82.1,523.3 82.4,523.1 82.8,522.8 83.2,523.3 83.5,522.9 83.9,523.4 84.2,523.2 84.6,523.3 85.0,521.6 85.3,521.2 85.7,521.3 86.0,521.2 86.4,521.8 86.8,522.4 87.1,523.5 87.5,523.5 87.8,524.6 88.2,526.0 88.6,525.9 88.9,526.2 89.3,526.3 89.6,527.7 90.0,526.5 90.4,526.3 90.7,525.2 91.1,524.0 91.4,523.1 91.8,522.3 92.2,521.5 92.5,520.0 92.9,519.9 93.2,519.4 93.6,519.4 94.0,520.5 94.3,519.6 94.7,519.4 95.0,519.3 95.4,518.8 95.8,518.6 96.1,518.5 96.5,518.4 96.8,517.9 97.2,517.8 97.6,516.7 97.9,516.6 98.3,516.7 98.6,516.8 99.0,517.9 99.4,517.5 99.7,518.2 100.1,517.8 100.4,518.3 100.8,518.5 101.2,519.4 101.5,519.0 101.9,518.7 102.2,517.9 102.6,517.2 103.0,517.2 103.3,516.6 103.7,516.4 104.1,516.4 104.4,516.2 104.8,516.1 105.1,517.6 105.5,516.3 105.9,516.6 106.2,516.7 106.6,516.8 106.9,517.6 107.3,517.9 107.7,517.2 108.0,516.9 108.4,517.3 108.7,517.2 109.1,516.8 109.5,517.1 109.8,516.3 110.2,515.6 110.5,517.3 110.9,517.2 111.3,516.6 111.6,516.8 112.0,517.8 112.3,517.0 112.7,516.6 113.1,516.1 113.4,517.0 113.8,516.2 114.1,515.7 114.5,516.2 114.9,515.7 115.2,516.5 115.6,516.2 115.9,515.6 116.3,515.8 116.7,516.3 117.0,516.9 117.4,516.1 117.7,515.3 118.1,516.5 118.5,516.5 118.8,518.6 119.2,518.3 119.5,518.4 119.9,518.1 120.3,519.3 120.6,519.2 121.0,519.7 121.3,519.8 121.7,519.5 122.1,519.5 122.4,518.8 122.8,518.6 123.1,517.5 123.5,515.8 123.9,515.4 124.2,516.6 124.6,516.9 124.9,516.3 125.3,516.5 125.7,517.0 126.0,518.0 126.4,518.1 126.7,519.5 127.1,520.0 127.5,520.1 127.8,520.6 128.2,520.9 128.5,520.3 128.9,520.1 129.3,518.4 129.6,520.1 130.0,519.0 130.3,519.2 130.7,519.3 131.1,519.5 131.4,519.3 131.8,517.3 132.1,518.5 132.5,518.1 132.9,516.6 133.2,517.1 133.6,518.1 133.9,519.2 134.3,518.2 134.7,517.9 135.0,517.9 135.4,517.7 135.7,516.9 136.1,515.3 136.5,516.5 136.8,516.9 137.2,517.4 137.5,518.1 137.9,518.2 138.3,518.3 138.6,518.6 139.0,517.3 139.3,519.0 139.7,520.2 140.1,522.8 140.4,522.7 140.8,523.8 141.2,522.2 141.5,522.4 141.9,519.9 142.2,516.6 142.6,513.5 143.0,511.9 143.3,509.0 143.7,507.6 144.0,506.8 144.4,507.0 144.8,509.4 145.1,511.7 145.5,512.9 145.8,512.8 146.2,513.8 146.6,514.7 146.9,517.2 147.3,518.5 147.6,518.7 148.0,519.4 148.4,523.0 148.7,523.8 149.1,524.2 149.4,524.2 149.8,525.2 150.2,523.1 150.5,523.9 150.9,523.7 151.2,524.1 151.6,524.4 152.0,523.5 152.3,523.6 152.7,524.1 153.0,524.2 153.4,522.7 153.8,520.7 154.1,520.5 154.5,518.8 154.8,518.4 155.2,516.3 155.6,513.4 155.9,512.9 156.3,513.1 156.6,514.0 157.0,513.0 157.4,513.4 157.7,513.2 158.1,513.9 158.4,515.8 158.8,517.6 159.2,519.3 159.5,521.3 159.9,522.6 160.2,522.9 160.6,522.7 161.0,523.5 161.3,524.7 161.7,525.0 162.0,526.0 162.4,528.4 162.8,529.6 163.1,534.3 163.5,536.4 163.8,536.3 164.2,534.2 164.6,531.5 164.9,526.9 165.3,522.7 165.6,519.6 166.0,519.1 166.4,517.3 166.7,517.6 167.1,518.2 167.4,518.3 167.8,517.1 168.2,519.7 168.5,521.3 168.9,521.2 169.2,523.5 169.6,523.5 170.0,522.8 170.3,521.6 170.7,517.7 171.0,515.3 171.4,514.6 171.8,513.2 172.1,515.8 172.5,515.5 172.8,514.5 173.2,513.1 173.6,513.9 173.9,513.9 174.3,513.6 174.6,511.8 175.0,511.3 175.4,513.3 175.7,512.3 176.1,513.2 176.5,514.3 176.8,515.3 177.2,514.0 177.5,513.5 177.9,513.2 178.3,511.0 178.6,509.3 179.0,508.9 179.3,510.4 179.7,508.4 180.1,508.0 180.4,511.1 180.8,512.7 181.1,513.0 181.5,517.0 181.9,517.0 182.2,518.2 182.6,519.1 182.9,519.8 183.3,523.4 183.7,522.5 184.0,522.0 184.4,519.6 184.7,520.2 185.1,516.3 185.5,514.5 185.8,515.3 186.2,516.5 186.5,517.2 186.9,516.7 187.3,515.3 187.6,513.1 188.0,511.7 188.3,513.4 188.7,510.5 189.1,507.7 189.4,508.1 189.8,507.6 190.1,505.7 190.5,506.2 190.9,505.5 191.2,506.4 191.6,508.2 191.9,512.6 192.3,514.9 192.7,517.9 193.0,519.8 193.4,522.3 193.7,523.4 194.1,524.0 194.5,525.8 194.8,527.9 195.2,532.8 195.5,534.9 195.9,537.8 196.3,536.9 196.6,537.3 197.0,536.0 197.3,528.6 197.7,524.9 198.1,523.9 198.4,516.6 198.8,513.3 199.1,509.8 199.5,509.2 199.9,505.8 200.2,508.5 200.6,511.1 200.9,506.9 201.3,506.2 201.7,505.7 202.0,507.3 202.4,505.1 202.7,505.4 203.1,503.0 203.5,506.9 203.8,505.7 204.2,503.8 204.5,503.5 204.9,505.3 205.3,506.9 205.6,502.5 206.0,498.5 206.3,499.8 206.7,504.0 207.1,506.7 207.4,508.0 207.8,506.7 208.1,502.6 208.5,501.9 208.9,501.7 209.2,501.3 209.6,503.7 209.9,502.0 210.3,503.0 210.7,503.9 211.0,506.2 211.4,508.0 211.7,509.4 212.1,513.6 212.5,519.9 212.8,526.8 213.2,527.3 213.6,527.0 213.9,524.8 214.3,523.4 214.6,522.4 215.0,519.8 215.4,522.9 215.7,521.3 216.1,521.1 216.4,520.2 216.8,518.9 217.2,518.2 217.5,514.6 217.9,513.8 218.2,509.5 218.6,506.8 219.0,508.9 219.3,511.1 219.7,513.3 220.0,520.9 220.4,527.0 220.8,533.1 221.1,538.2 221.5,540.6 221.8,540.2 222.2,537.1 222.6,534.7 222.9,530.9 223.3,528.9 223.6,524.0 224.0,518.0 224.4,515.2 224.7,511.0 225.1,509.5 225.4,512.5 225.8,510.4 226.2,508.3 226.5,511.2 226.9,509.7 227.2,510.3 227.6,512.1 228.0,513.6 228.3,513.3 228.7,518.1 229.0,523.1 229.4,528.3 229.8,532.2 230.1,534.4 230.5,533.1 230.8,528.8 231.2,523.3 231.6,521.0 231.9,519.3 232.3,516.6 232.6,513.0 233.0,512.0 233.4,507.8 233.7,504.4 234.1,502.5 234.4,499.8 234.8,499.0 235.2,499.2 235.5,499.5 235.9,502.0 236.2,503.1 236.6,506.4 237.0,505.7 237.3,502.8 237.7,499.1 238.0,500.7 238.4,503.6 238.8,503.8 239.1,499.7 239.5,496.6 239.8,497.2 240.2,495.3 240.6,499.2 240.9,499.8 241.3,503.1 241.6,501.9 242.0,502.4 242.4,504.8 242.7,504.0 243.1,509.0 243.4,511.3 243.8,513.5 244.2,518.7 244.5,519.1 244.9,518.0 245.2,521.5 245.6,525.3 246.0,523.9 246.3,523.9 246.7,522.6 247.0,523.2 247.4,525.5 247.8,526.1 248.1,525.7 248.5,525.7 248.9,526.1 249.2,521.0 249.6,523.5 249.9,520.0 250.3,518.0 250.7,514.9 251.0,515.9 251.4,510.0 251.7,509.9 252.1,511.6 252.5,510.8 252.8,510.7 253.2,508.2 253.5,506.5 253.9,513.4 254.3,514.5 254.6,511.8 255.0,510.4 255.3,511.3 255.7,511.3 256.1,518.7 256.4,518.6 256.8,519.1 257.1,516.7 257.5,522.9 257.9,533.9 258.2,539.4 258.6,542.5 258.9,547.7 259.3,548.0 259.7,552.0 260.0,560.7 260.4,558.7 260.7,560.8 261.1,561.8 261.5,558.9 261.8,557.9 262.2,559.3 262.5,556.5 262.9,557.6 263.3,549.8 263.6,551.0 264.0,545.4 264.3,536.7 264.7,531.0 265.1,529.7 265.4,522.7 265.8,519.1 266.1,517.6 266.5,509.3 266.9,493.9 267.2,489.5 267.6,483.4 267.9,492.2 268.3,497.7 268.7,495.6 269.0,490.0 269.4,486.8 269.7,486.6 270.1,487.4 270.5,487.0 270.8,489.3 271.2,495.2 271.5,496.7 271.9,497.3 272.3,496.0 272.6,498.0 273.0,493.2 273.3,490.8 273.7,488.3 274.1,490.0 274.4,491.9 274.8,494.9 275.1,498.5 275.5,501.5 275.9,503.8 276.2,499.9 276.6,506.0 276.9,504.5 277.3,505.5 277.7,505.0 278.0,506.0 278.4,508.0 278.7,507.9 279.1,508.7 279.5,505.9 279.8,507.5 280.2,506.0 280.5,505.7 280.9,507.8 281.3,508.5 281.6,509.2 282.0,514.2 282.3,515.2 282.7,513.5 283.1,507.6 283.4,506.8 283.8,505.6 284.2,506.4 284.5,509.8 284.9,510.9 285.2,515.9 285.6,513.4 286.0,513.4 286.3,514.6 286.7,516.0 287.0,511.9 287.4,511.1 287.8,508.5 288.1,505.7 288.5,504.6 288.8,507.1 289.2,507.6 289.6,509.8 289.9,511.1 290.3,511.9 290.6,512.7 291.0,514.6 291.4,517.3 291.7,520.4 292.1,523.3 292.4,520.0 292.8,520.8 293.2,522.8 293.5,523.6 293.9,520.8 294.2,523.7 294.6,525.2 295.0,526.2 295.3,527.4 295.7,523.8 296.0,524.0 296.4,520.7 296.8,520.0 297.1,516.8 297.5,512.2 297.8,508.4 298.2,503.4 298.6,500.6 298.9,498.9 299.3,501.5 299.6,500.7 300.0,508.5 300.4,515.2 300.7,522.9 301.1,522.8 301.4,525.0 301.8,529.5 302.2,531.7 302.5,534.7 302.9,538.8 303.2,541.1 303.6,540.2 304.0,535.4 304.3,533.4 304.7,528.7 305.0,523.1 305.4,519.3 305.8,515.3 306.1,514.0 306.5,513.8 306.8,519.8 307.2,521.5 307.6,521.2 307.9,523.9 308.3,527.6 308.6,527.7 309.0,531.2 309.4,536.4 309.7,535.5 310.1,539.6 310.4,542.9 310.8,546.3 311.2,542.9 311.5,540.1 311.9,537.5 312.2,532.1 312.6,520.4 313.0,509.9 313.3,506.0 313.7,502.5 314.0,497.5 314.4,493.8 314.8,488.8 315.1,487.7 315.5,489.1 315.8,492.6 316.2,494.9 316.6,495.3 316.9,493.5 317.3,488.5 317.6,490.9 318.0,494.5 318.4,498.3 318.7,496.6 319.1,497.0 319.4,501.6 319.8,504.1 320.2,506.1 320.5,505.8 320.9,511.1 321.3,510.6 321.6,518.9 322.0,524.2 322.3,533.1 322.7,534.5 323.1,533.5 323.4,532.9 323.8,535.9 324.1,529.9 324.5,528.8 324.9,530.0 325.2,532.1 325.6,530.2 325.9,533.3 326.3,537.2 326.7,540.4 327.0,542.7 327.4,543.1 327.7,541.4 328.1,536.4 328.5,527.9 328.8,520.2 329.2,516.9 329.5,505.1 329.9,501.5 330.3,494.5 330.6,489.2 331.0,485.1 331.3,486.1 331.7,497.2 332.1,496.0 332.4,502.2 332.8,508.7 333.1,514.3 333.5,517.5 333.9,527.7 334.2,538.4 334.6,548.4 334.9,551.9 335.3,545.4 335.7,541.4 336.0,535.7 336.4,531.9 336.7,527.1 337.1,519.2 337.5,515.9 337.8,515.5 338.2,516.1 338.5,516.7 338.9,518.1 339.3,522.0 339.6,527.0 340.0,523.7 340.3,524.4 340.7,524.1 341.1,523.3 341.4,523.4 341.8,522.8 342.1,514.4 342.5,510.8 342.9,507.0 343.2,504.5 343.6,501.0 343.9,502.4 344.3,497.3 344.7,498.8 345.0,500.5 345.4,499.9 345.7,509.7 346.1,515.5 346.5,522.7 346.8,526.1 347.2,532.2 347.5,527.5 347.9,535.8 348.3,534.8 348.6,531.5 349.0,527.8 349.3,517.7 349.7,516.1 350.1,515.8 350.4,512.6 350.8,514.1 351.1,508.6 351.5,515.0 351.9,517.9 352.2,522.0 352.6,527.1 352.9,527.4 353.3,529.6 353.7,532.7 354.0,536.9 354.4,538.0 354.7,545.8 355.1,551.7 355.5,554.3 355.8,555.7 356.2,554.4 356.6,554.4 356.9,553.2 357.3,550.1 357.6,549.4 358.0,545.0 358.4,546.0 358.7,546.5 359.1,544.8 359.4,543.6 359.8,538.9 360.2,538.6 360.5,531.5 360.9,531.9 361.2,529.9 361.6,531.8 362.0,529.4 362.3,520.7 362.7,523.9 363.0,518.5 363.4,517.0 363.8,523.5 364.1,528.2 364.5,532.2 364.8,537.4 365.2,539.9 365.6,541.8 365.9,537.5 366.3,538.5 366.6,536.2 367.0,534.5 367.4,525.1 367.7,523.9 368.1,519.6 368.4,514.3 368.8,509.4 369.2,508.2 369.5,507.4 369.9,510.4 370.2,513.2 370.6,519.7 371.0,524.9 371.3,527.9 371.7,534.2 372.0,539.1 372.4,539.6 372.8,543.4 373.1,551.8 373.5,550.4 373.8,550.1 374.2,551.8 374.6,555.0 374.9,561.7 375.3,564.8 375.6,563.5 376.0,567.3 376.4,572.1 376.7,569.7 377.1,560.1 377.4,558.5 377.8,551.9 378.2,541.5 378.5,535.2 378.9,529.5 379.2,523.5 379.6,517.6 380.0,510.8 380.3,507.8 380.7,504.5 381.0,502.4 381.4,502.8 381.8,504.3 382.1,503.9 382.5,502.0 382.8,499.9 383.2,501.6 383.6,501.3 383.9,504.1 384.3,506.8 384.6,513.4 385.0,513.1 385.4,517.7 385.7,520.1 386.1,520.8 386.4,521.5 386.8,524.9 387.2,527.8 387.5,528.1 387.9,528.4 388.2,532.5 388.6,534.4 389.0,538.4 389.3,538.3 389.7,538.2 390.0,539.8 390.4,541.1 390.8,540.5 391.1,535.3 391.5,532.2 391.8,533.1 392.2,535.1 392.6,534.3 392.9,536.1 393.3,533.5 393.7,529.6 394.0,532.4 394.4,536.0 394.7,536.5 395.1,537.8 395.5,537.4 395.8,540.2 396.2,540.3 396.5,542.2 396.9,549.8 397.3,552.4 397.6,555.7 398.0,562.9 398.3,570.1 398.7,575.1 399.1,573.7 399.4,569.4 399.8,563.2 400.1,555.8 400.5,548.7 400.9,538.9 401.2,534.7 401.6,526.8 401.9,526.0 402.3,523.6 402.7,520.4 403.0,519.5 403.4,514.6 403.7,509.1 404.1,504.8 404.5,502.2 404.8,502.0 405.2,502.3 405.5,499.9 405.9,499.5 406.3,498.6 406.6,497.5 407.0,500.9 407.3,504.0 407.7,503.6 408.1,502.4 408.4,503.5 408.8,504.6 409.1,510.5 409.5,511.6 409.9,515.2 410.2,516.3 410.6,515.4 410.9,518.3 411.3,520.0 411.7,517.8 412.0,516.9 412.4,518.6 412.7,519.4 413.1,523.4 413.5,527.3 413.8,530.0 414.2,529.5 414.5,534.2 414.9,537.8 415.3,537.9 415.6,534.9 416.0,536.4 416.3,536.2 416.7,532.6 417.1,531.8 417.4,526.8 417.8,526.6 418.1,524.6 418.5,523.0 418.9,521.0 419.2,520.4 419.6,516.7 419.9,516.3 420.3,515.0 420.7,510.8 421.0,508.2 421.4,507.6 421.7,510.5 422.1,512.3 422.5,515.6 422.8,521.5 423.2,520.1 423.5,523.5 423.9,524.9 424.3,527.4 424.6,528.1 425.0,531.0 425.3,532.6 425.7,536.5 426.1,537.9 426.4,535.6 426.8,538.0 427.1,540.1 427.5,539.2 427.9,539.6 428.2,539.0 428.6,540.0 429.0,540.7 429.3,534.2 429.7,537.9 430.0,536.3 430.4,534.2 430.8,536.0 431.1,540.5 431.5,542.2 431.8,550.0 432.2,546.8 432.6,549.1 432.9,550.3 433.3,551.1 433.6,556.4 434.0,553.8 434.4,555.4 434.7,558.9 435.1,566.2 435.4,570.2 435.8,576.6 436.2,578.6 436.5,579.5 436.9,576.0 437.2,565.4 437.6,557.5 438.0,544.6 438.3,541.4 438.7,536.7 439.0,525.6 439.4,518.4 439.8,517.1 440.1,512.0 440.5,513.2 440.8,510.4 441.2,511.2 441.6,517.7 441.9,517.4 442.3,520.0 442.6,524.2 443.0,527.8 443.4,532.8 443.7,535.3 444.1,537.5 444.4,542.6 444.8,542.1 445.2,544.3 445.5,548.7 445.9,549.0 446.2,547.7 446.6,548.1 447.0,546.0 447.3,539.9 447.7,530.9 448.0,523.6 448.4,515.0 448.8,512.0 449.1,509.6 449.5,510.5 449.8,510.3 450.2,506.9 450.6,506.1 450.9,504.1 451.3,507.6 451.6,506.8 452.0,503.8 452.4,505.6 452.7,509.7 453.1,515.5 453.4,518.9 453.8,521.3 454.2,521.0 454.5,520.2 454.9,518.5 455.2,518.2 455.6,518.3 456.0,522.6 456.3,522.5 456.7,528.0 457.0,526.5 457.4,526.7 457.8,522.6 458.1,517.8 458.5,513.9 458.8,515.0 459.2,519.5 459.6,527.9 459.9,526.5 460.3,530.7 460.6,531.5 461.0,538.5 461.4,541.6 461.7,545.4 462.1,545.6 462.4,544.6 462.8,547.4 463.2,546.5 463.5,546.0 463.9,545.4 464.2,542.1 464.6,541.3 465.0,540.0 465.3,539.9 465.7,538.3 466.1,533.5 466.4,529.6 466.8,521.6 467.1,517.4 467.5,512.2 467.9,511.9 468.2,511.4 468.6,513.1 468.9,510.4 469.3,506.4 469.7,504.3 470.0,502.3 470.4,502.9 470.7,502.1 471.1,501.1 471.5,501.6 471.8,501.9 472.2,502.6 472.5,500.0 472.9,501.0 473.3,501.5 473.6,499.9 474.0,501.7 474.3,500.6 474.7,501.6 475.1,501.7 475.4,501.3 475.8,501.7 476.1,502.9 476.5,505.2 476.9,503.1 477.2,504.9 477.6,505.0 477.9,504.6 478.3,503.4 478.7,505.1 479.0,510.0 479.4,511.5 479.7,513.1 480.1,513.7 480.5,515.1 480.8,513.8 481.2,515.9 481.5,518.9 481.9,517.9 482.3,519.8 482.6,520.0 483.0,520.9 483.3,520.8 483.7,520.7 484.1,521.1 484.4,522.4 484.8,523.3 485.1,521.7 485.5,519.2 485.9,517.2 486.2,516.2 486.6,515.6 486.9,514.9 487.3,515.3 487.7,513.0 488.0,513.8 488.4,518.2 488.7,516.1 489.1,517.9 489.5,519.3 489.8,517.9 490.2,520.0 490.5,519.7 490.9,520.8 491.3,519.5 491.6,519.4 492.0,519.4 492.3,519.9 492.7,518.0 493.1,517.6 493.4,517.7 493.8,516.2 494.1,517.0 494.5,516.0 494.9,515.1 495.2,513.9 495.6,514.1 495.9,515.4 496.3,517.2 496.7,514.1 497.0,511.2 497.4,509.8 497.7,507.6 498.1,508.8 498.5,507.4 498.8,509.0 499.2,509.6 499.5,512.8 499.9,511.6 500.3,509.7 500.6,508.7 501.0,506.5 501.4,504.9 501.7,504.3 502.1,502.9 502.4,504.0 502.8,504.8 503.2,505.0 503.5,505.2 503.9,507.1 504.2,506.2 504.6,506.8 505.0,509.4 505.3,509.7 505.7,510.0 506.0,510.4 506.4,509.7 506.8,510.8 507.1,512.6 507.5,513.8 507.8,515.8 508.2,516.1 508.6,515.3 508.9,514.8 509.3,516.9 509.6,519.0 510.0,519.7 510.4,520.1 510.7,523.4 511.1,525.4 511.4,529.3 511.8,530.3 512.2,532.9 512.5,533.0 512.9,532.7 513.2,532.6 513.6,530.9 514.0,528.3 514.3,526.6 514.7,525.1 515.0,523.7 515.4,523.6 515.8,523.9 516.1,523.7 516.5,525.7 516.8,527.9 517.2,526.6 517.6,527.8 517.9,528.3 518.3,529.9 518.6,531.6 519.0,531.3 519.4,528.9 519.7,527.7 520.1,526.3 520.4,521.8 520.8,522.1 521.2,518.0 521.5,518.7 521.9,517.1 522.2,519.2 522.6,518.5 523.0,516.2 523.3,513.9 523.7,514.7 524.0,516.3 524.4,516.0 524.8,517.7 525.1,520.7 525.5,523.5 525.8,525.4 526.2,527.0 526.6,529.4 526.9,529.9 527.3,530.4 527.6,530.9 528.0,534.3 528.4,534.7 528.7,535.0 529.1,537.8 529.4,537.4 529.8,535.4 530.2,533.2 530.5,529.4 530.9,525.1 531.2,522.8 531.6,520.4 532.0,519.6 532.3,518.4 532.7,518.3 533.0,517.0 533.4,515.8 533.8,515.1 534.1,513.8 534.5,514.0 534.8,512.2 535.2,512.8 535.6,513.8 535.9,513.6 536.3,516.0 536.7,517.7 537.0,519.9 537.4,521.0 537.7,521.1 538.1,521.3 538.5,524.3 538.8,524.4 539.2,522.2 539.5,517.7 539.9,515.2 540.3,512.3 540.6,509.0 541.0,507.8 541.3,507.5 541.7,506.5 542.1,508.5 542.4,508.9 542.8,507.8 543.1,507.3 543.5,506.4 543.9,509.2 544.2,510.1 544.6,509.9 544.9,507.9 545.3,509.1 545.7,507.1 546.0,508.5 546.4,508.8 546.7,510.7 547.1,510.8 547.5,514.6 547.8,516.1 548.2,517.3 548.5,520.4 548.9,522.0 549.3,525.3 549.6,523.2 550.0,525.6 550.3,525.1 550.7,524.0 551.1,521.9 551.4,520.8 551.8,520.0 552.1,520.3 552.5,519.4 552.9,517.9 553.2,523.0 553.6,525.4 553.9,527.7 554.3,526.5 554.7,524.2 555.0,522.9 555.4,518.3 555.7,514.3 556.1,514.9 556.5,516.9 556.8,516.9 557.2,517.7 557.5,517.7 557.9,519.8 558.3,522.9 558.6,524.9 559.0,528.3 559.3,529.6 559.7,532.3 560.1,533.5 560.4,534.0 560.8,535.9 561.1,535.1 561.5,535.8 561.9,535.8 562.2,534.3 562.6,529.3 562.9,527.5 563.3,525.8 563.7,524.0 564.0,520.9 564.4,518.7 564.7,516.5 565.1,515.2 565.5,514.8 565.8,515.4 566.2,515.5 566.5,516.7 566.9,517.3 567.3,515.5 567.6,514.7 568.0,513.9 568.3,512.4 568.7,511.8 569.1,511.7 569.4,512.4 569.8,515.6 570.1,515.2 570.5,516.0 570.9,514.3 571.2,514.6 571.6,513.4 571.9,513.7 572.3,512.7 572.7,512.7 573.0,513.0 573.4,512.9 573.8,515.6 574.1,514.7 574.5,515.1 574.8,517.5 575.2,517.5 575.6,518.7 575.9,519.5 576.3,521.5 576.6,520.7 577.0,523.5 577.4,524.1 577.7,524.1 578.1,523.4 578.4,523.4 578.8,524.6 579.2,524.7 579.5,522.1 579.9,521.7 580.2,522.2 580.6,523.9 581.0,525.6 581.3,527.5 581.7,529.2 582.0,530.8 582.4,532.0 582.8,534.6 583.1,537.7 583.5,537.5 583.8,534.9 584.2,530.8 584.6,527.5 584.9,524.8 585.3,521.2 585.6,517.7 586.0,515.6 586.4,513.6 586.7,511.9 587.1,509.8 587.4,507.6 587.8,508.1 588.2,508.3 588.5,510.0 588.9,509.3 589.2,511.5 589.6,512.4 590.0,510.7 590.3,511.9 590.7,511.2 591.0,511.9 591.4,514.0 591.8,514.1 592.1,515.4 592.5,514.7 592.8,515.4 593.2,517.2 593.6,517.4 593.9,516.9 594.3,515.3 594.6,517.0 595.0,514.9 595.4,513.6 595.7,514.7 596.1,515.5 596.4,517.0 596.8,518.2 597.2,519.0 597.5,520.0 597.9,518.4 598.2,516.3 598.6,517.2 599.0,517.3 599.3,518.2 599.7,517.8 600.0,518.2 600.4,519.2 600.8,518.7 601.1,518.1 601.5,516.7 601.8,516.3 602.2,516.0 602.6,516.5 602.9,516.4 603.3,519.3 603.6,518.4 604.0,521.1 604.4,518.9 604.7,518.9 605.1,519.7 605.4,518.5 605.8,517.4 606.2,517.9 606.5,517.8 606.9,517.8 607.2,517.9 607.6,518.5 608.0,518.2 608.3,514.9 608.7,516.7 609.1,517.4 609.4,519.3 609.8,521.9 610.1,524.3 610.5,529.1 610.9,529.7 611.2,532.8 611.6,534.9 611.9,536.5 612.3,538.4 612.7,541.5 613.0,544.2 613.4,544.4 613.7,540.9 614.1,539.3 614.5,534.1 614.8,530.9 615.2,527.1 615.5,526.3 615.9,525.0 616.3,526.8 616.6,527.7 617.0,528.5 617.3,528.9 617.7,528.8 618.1,524.8 618.4,523.0 618.8,521.2 619.1,518.4 619.5,518.7 619.9,516.9 620.2,513.2 620.6,512.2 620.9,512.9 621.3,511.4 621.7,511.8 622.0,512.0 622.4,513.1 622.7,510.4 623.1,511.2 623.5,510.4 623.8,510.7 624.2,510.1 624.5,510.7 624.9,509.3 625.3,507.4 625.6,506.9 626.0,504.9 626.3,504.8 626.7,505.2 627.1,504.1 627.4,502.3 627.8,503.8 628.1,505.8 628.5,505.0 628.9,506.5 629.2,508.1 629.6,506.5 629.9,508.4 630.3,508.1 630.7,508.3 631.0,508.9 631.4,506.9 631.7,506.5 632.1,508.4 632.5,509.2 632.8,511.0 633.2,511.9 633.5,512.6 633.9,513.0 634.3,513.5 634.6,514.1 635.0,514.5 635.3,513.2 635.7,511.8 636.1,513.8 636.4,513.8 636.8,514.1 637.1,512.4 637.5,513.8 637.9,515.9 638.2,517.2 638.6,518.0 638.9,518.8 639.3,519.4 639.7,520.6 640.0,516.7 640.4,516.4 640.7,517.1 641.1,514.7 641.5,515.3 641.8,513.7 642.2,512.2 642.5,511.1 642.9,510.8 643.3,511.3 643.6,514.1 644.0,515.0 644.4,515.3 644.7,516.6 645.1,523.0 645.4,527.1 645.8,530.5 646.2,534.6 646.5,537.8 646.9,537.5 647.2,536.2 647.6,532.6 648.0,531.3 648.3,527.9 648.7,522.9 649.0,518.1 649.4,518.7 649.8,516.6 650.1,512.3 650.5,510.7 650.8,508.4 651.2,505.4 651.6,504.5 651.9,501.6 652.3,504.4 652.6,501.4 653.0,501.7 653.4,502.7 653.7,501.6 654.1,502.4 654.4,504.3 654.8,504.8 655.2,503.5 655.5,504.7 655.9,507.3 656.2,507.7 656.6,507.9 657.0,511.3 657.3,512.1 657.7,512.8 658.0,517.0 658.4,515.6 658.8,514.7 659.1,514.3 659.5,513.0 659.8,514.4 660.2,516.8 660.6,518.6 660.9,519.8 661.3,520.1 661.6,518.5 662.0,520.3 662.4,518.1 662.7,518.0 663.1,516.8 663.4,511.4 663.8,515.9 664.2,516.5 664.5,526.0 664.9,528.2 665.2,535.1 665.6,536.8 666.0,543.6 666.3,550.3 666.7,553.8 667.0,552.9 667.4,553.4 667.8,553.5 668.1,546.0 668.5,537.9 668.8,529.3 669.2,526.3 669.6,519.4 669.9,522.0 670.3,518.9 670.6,511.8 671.0,510.2 671.4,506.5 671.7,504.5 672.1,504.8 672.4,504.2 672.8,500.8 673.2,501.9 673.5,504.4 673.9,503.8 674.2,513.8 674.6,511.7 675.0,516.8 675.3,521.1 675.7,525.9 676.0,528.3 676.4,525.2 676.8,526.6 677.1,525.3 677.5,534.4 677.8,532.1 678.2,534.2 678.6,537.2 678.9,535.9 679.3,540.6 679.6,537.4 680.0,536.1 680.4,530.9 680.7,525.4 681.1,520.8 681.5,523.2 681.8,527.5 682.2,532.0 682.5,527.0 682.9,532.3 683.3,539.8 683.6,545.3 684.0,546.0 684.3,545.9 684.7,547.3 685.1,546.6 685.4,548.1 685.8,548.3 686.1,557.4 686.5,553.8 686.9,557.8 687.2,555.6 687.6,550.9 687.9,547.3 688.3,540.5 688.7,536.9 689.0,535.7 689.4,529.4 689.7,527.6 690.1,529.5 690.5,521.4 690.8,515.6 691.2,518.6 691.5,528.3 691.9,538.0 692.3,545.0 692.6,548.9 693.0,545.3 693.3,547.7 693.7,543.3 694.1,540.2 694.4,528.4 694.8,526.0 695.1,518.3 695.5,517.7 695.9,507.5 696.2,506.8 696.6,508.3 696.9,505.0 697.3,511.0 697.7,509.0 698.0,504.7 698.4,505.4 698.7,509.9 699.1,506.9 699.5,505.7 699.8,508.3 700.2,506.6 700.5,508.7 700.9,512.1 701.3,510.0 701.6,512.2 702.0,513.9 702.3,516.3 702.7,519.6 703.1,527.1 703.4,528.7 703.8,538.7 704.1,543.5 704.5,548.2 704.9,546.9 705.2,547.7 705.6,554.7 705.9,559.7 706.3,558.2 706.7,560.9 707.0,562.3 707.4,557.5 707.7,551.3 708.1,545.2 708.5,542.3 708.8,544.1 709.2,539.1 709.5,536.5 709.9,535.4 710.3,528.1 710.6,525.4 711.0,520.6 711.3,526.2 711.7,538.6 712.1,532.1 712.4,516.6 712.8,515.7 713.1,521.2 713.5,527.2 713.9,533.3 714.2,534.6 714.6,526.1 714.9,538.0 715.3,534.3 715.7,547.1 716.0,542.4 716.4,540.8 716.8,561.4 717.1,563.7 717.5,558.4 717.8,564.7 718.2,567.3 718.6,576.0 718.9,602.0 719.3,602.3 719.6,606.6 720.0,606.9 720.4,591.9 720.7,599.3 721.1,605.8 721.4,597.2 721.8,573.4 722.2,560.4 722.5,560.4 722.9,582.4 723.2,593.7 723.6,593.2 724.0,583.6 724.3,571.6 724.7,568.7 725.0,564.9 725.4,556.0 725.8,541.0 726.1,534.5 726.5,527.7 726.8,521.3 727.2,511.8 727.6,508.9 727.9,509.5 728.3,509.7 728.6,513.4 729.0,517.4 729.4,517.0 729.7,516.7 730.1,520.6 730.4,531.6 730.8,541.1 731.2,548.4 731.5,548.6 731.9,546.5 732.2,543.3 732.6,532.6 733.0,528.8 733.3,528.3 733.7,530.8 734.0,536.3 734.4,538.5 734.8,545.4 735.1,554.1 735.5,560.7 735.8,560.7 736.2,563.8 736.6,566.1 736.9,569.5 737.3,566.7 737.6,563.7 738.0,557.7 738.4,547.3 738.7,538.3 739.1,530.3 739.4,526.8 739.8,514.1 740.2,509.5 740.5,504.0 740.9,501.4 741.2,498.2 741.6,499.7 742.0,496.2 742.3,500.0 742.7,496.1 743.0,500.1 743.4,494.3 743.8,494.1 744.1,500.0 744.5,495.8 744.8,498.8 745.2,498.2 745.6,497.6 745.9,497.8 746.3,497.8 746.6,497.9 747.0,500.0 747.4,499.0 747.7,498.0 748.1,499.6 748.4,499.4 748.8,499.1 749.2,501.7 749.5,504.1 749.9,510.7 750.2,518.0 750.6,518.0 751.0,521.0 751.3,526.2 751.7,528.6 752.0,530.1 752.4,531.4 752.8,531.5 753.1,528.2 753.5,522.9 753.9,516.4 754.2,509.9 754.6,503.9 754.9,501.7 755.3,499.9 755.7,497.4 756.0,496.8 756.4,497.5 756.7,496.3 757.1,497.0 757.5,500.2 757.8,501.7 758.2,504.4 758.5,504.8 758.9,504.6 759.3,504.7 759.6,503.8 760.0,503.8 760.3,502.3 760.7,503.9 761.1,504.6 761.4,502.9 761.8,500.4 762.1,503.0 762.5,503.5 762.9,502.2 763.2,502.1 763.6,503.3 763.9,503.0 764.3,504.3 764.7,504.6 765.0,506.1 765.4,506.6 765.7,505.5 766.1,508.9 766.5,511.3 766.8,514.6 767.2,514.7 767.5,513.8 767.9,514.7 768.3,517.6 768.6,518.2 769.0,517.0 769.3,516.5 769.7,513.1 770.1,514.4 770.4,512.9 770.8,512.0 771.1,513.0 771.5,512.5 771.9,514.4 772.2,514.0 772.6,514.1 772.9,510.5 773.3,513.2 773.7,516.1 774.0,517.6 774.4,516.7 774.7,514.4 775.1,512.6 775.5,512.5 775.8,512.9 776.2,512.5 776.5,514.4 776.9,517.5 777.3,527.1 777.6,530.8 778.0,535.1 778.3,537.4 778.7,534.4 779.1,534.1 779.4,533.1 779.8,528.0 780.1,524.9 780.5,522.4 780.9,521.8 781.2,519.7 781.6,519.6 781.9,520.3 782.3,517.9 782.7,513.7 783.0,511.9 783.4,511.6 783.7,510.3 784.1,507.9 784.5,508.7 784.8,507.7 785.2,506.5 785.5,501.2 785.9,501.5 786.3,499.5 786.6,501.2 787.0,498.5 787.3,500.7 787.7,503.3 788.1,502.8 788.4,502.9 788.8,509.7 789.2,514.8 789.5,519.4 789.9,525.5 790.2,532.6 790.6,537.4 791.0,541.7 791.3,546.0 791.7,554.2 792.0,557.6 792.4,558.3 792.8,555.3 793.1,551.1 793.5,551.1 793.8,549.4 794.2,543.0 794.6,539.3 794.9,533.4 795.3,524.6 795.6,522.5 796.0,526.2 796.4,532.4 796.7,533.8 797.1,539.3 797.4,538.1 797.8,538.8 798.2,537.1 798.5,533.5 798.9,528.6 799.2,525.0 799.6,520.9 800.0,517.4 800.3,515.4 800.7,517.0 801.0,516.2 801.4,510.7 801.8,506.9 802.1,512.1 802.5,517.8 802.8,523.9 803.2,527.3 803.6,532.3 803.9,536.8 804.3,537.9 804.6,538.0 805.0,534.2 805.4,527.1 805.7,520.8 806.1,515.3 806.4,511.0 806.8,508.4 807.2,506.0 807.5,502.8 807.9,502.3 808.2,501.7 808.6,500.1 809.0,501.6 809.3,501.6 809.7,501.9 810.0,501.4 810.4,500.9 810.8,503.9 811.1,506.3 811.5,505.5 811.8,508.1 812.2,507.4 812.6,509.1 812.9,510.9 813.3,510.1 813.6,511.2 814.0,511.4 814.4,508.3 814.7,510.9 815.1,513.9 815.4,512.5 815.8,512.0 816.2,509.1 816.5,508.5 816.9,506.9 817.2,505.3 817.6,504.3 818.0,500.4 818.3,502.7 818.7,501.5 819.0,501.1 819.4,503.5 819.8,501.9 820.1,498.8 820.5,500.2 820.8,497.1 821.2,500.0 821.6,501.8 821.9,505.9 822.3,504.5 822.6,503.6 823.0,503.7 823.4,504.5 823.7,504.5 824.1,508.6 824.5,509.4 824.8,505.7 825.2,509.0 825.5,511.5 825.9,510.7 826.3,514.4 826.6,517.8 827.0,525.2 827.3,527.6 827.7,529.5 828.1,535.7 828.4,535.3 828.8,531.6 829.1,529.5 829.5,527.1 829.9,522.0 830.2,522.0 830.6,517.8 830.9,518.2 831.3,511.4 831.7,507.6 832.0,508.1 832.4,506.6 832.7,507.4 833.1,506.4 833.5,508.2 833.8,509.0 834.2,505.7 834.5,506.9 834.9,510.5 835.3,512.8 835.6,516.7 836.0,517.2 836.3,521.0 836.7,525.2 837.1,528.9 837.4,529.8 837.8,528.1 838.1,531.3 838.5,535.2 838.9,535.6 839.2,535.7 839.6,537.4 839.9,539.9 840.3,537.7 840.7,531.8 841.0,527.2 841.4,522.7 841.7,518.6 842.1,515.2 842.5,512.2 842.8,510.6 843.2,506.2 843.5,519.4 843.9,510.3 844.3,518.9 844.6,520.7 845.0,523.7 845.3,529.0 845.7,541.5 846.1,561.0 846.4,581.5 846.8,579.1 847.1,574.2 847.5,571.4 847.9,570.5 848.2,568.8 848.6,558.7 848.9,543.9 849.3,537.6 849.7,528.1 850.0,528.3 850.4,536.7 850.7,541.7 851.1,537.3 851.5,528.7 851.8,533.9 852.2,542.9 852.5,539.0 852.9,552.9 853.3,551.4 853.6,553.2 854.0,544.5 854.3,534.2 854.7,524.3 855.1,512.8 855.4,500.5 855.8,494.1 856.1,494.0 856.5,487.7 856.9,491.0 857.2,491.3 857.6,493.7 857.9,505.8 858.3,506.6 858.7,506.3 859.0,509.4 859.4,517.4 859.7,526.5 860.1,535.2 860.5,539.1 860.8,535.2 861.2,519.0 861.6,505.6 861.9,505.4 862.3,503.4 862.6,504.8 863.0,507.1 863.4,514.6 863.7,517.0 864.1,514.9 864.4,515.1 864.8,511.2 865.2,511.1 865.5,509.1 865.9,504.9 866.2,504.8 866.6,502.5 867.0,502.9 867.3,501.2 867.7,501.2 868.0,501.9 868.4,503.2 868.8,503.0 869.1,504.7 869.5,502.6 869.8,501.9 870.2,503.8 870.6,504.8 870.9,506.9 871.3,506.6 871.6,507.2 872.0,509.3 872.4,510.1 872.7,507.7 873.1,507.9 873.4,509.3 873.8,507.6 874.2,507.1 874.5,507.1 874.9,506.3 875.2,508.3 875.6,510.7 876.0,510.0 876.3,510.3 876.7,512.7 877.0,510.6 877.4,508.9 877.8,512.7 878.1,512.8 878.5,514.3 878.8,517.0 879.2,515.1 879.6,519.3 879.9,521.7 880.3,523.1 880.6,527.0 881.0,527.9 881.4,531.1 881.7,534.5 882.1,535.5 882.4,535.8 882.8,539.4 883.2,543.0 883.5,544.6 883.9,547.0 884.2,548.5 884.6,548.8 885.0,547.5 885.3,542.9 885.7,539.0 886.0,533.2 886.4,527.2 886.8,524.7 887.1,523.3 887.5,523.4 887.8,523.9 888.2,521.9 888.6,520.2 888.9,516.1 889.3,510.3 889.6,508.0 890.0,507.1 890.4,507.5 890.7,510.0 891.1,508.9 891.4,509.6 891.8,508.8 892.2,509.4 892.5,508.6 892.9,506.7 893.2,509.7 893.6,508.5 894.0,507.0 894.3,507.1 894.7,507.5 895.0,507.8 895.4,506.6 895.8,505.0 896.1,503.1 896.5,499.3 896.9,501.9 897.2,503.0 897.6,505.1 897.9,505.8 898.3,506.6 898.7,505.8 899.0,508.4 899.4,510.0 899.7,512.5 900.1,513.4 900.5,516.0 900.8,518.1 901.2,517.7 901.5,521.1 901.9,522.5 902.3,523.1 902.6,525.4 903.0,526.9 903.3,528.8 903.7,532.4 904.1,534.1 904.4,537.8 904.8,539.2 905.1,541.0 905.5,540.9 905.9,538.7 906.2,533.5 906.6,530.4 906.9,525.1 907.3,521.4 907.7,519.0 908.0,516.8 908.4,514.2 908.7,513.7 909.1,512.6 909.5,511.4 909.8,510.1 910.2,510.8 910.5,509.0 910.9,509.6 911.3,505.9 911.6,507.5 912.0,505.4 912.3,506.1 912.7,505.0 913.1,505.7 913.4,505.0 913.8,505.8 914.1,505.2 914.5,507.3 914.9,508.5 915.2,508.2 915.6,508.4 915.9,509.8 916.3,509.6 916.7,509.7 917.0,507.3 917.4,507.7 917.7,506.6 918.1,507.7 918.5,505.2 918.8,506.0 919.2,506.8 919.5,508.4 919.9,509.1 920.3,509.8 920.6,511.7 921.0,513.6 921.3,514.8 921.7,513.2 922.1,515.2 922.4,514.8 922.8,510.8 923.1,512.1 923.5,513.4 923.9,511.6 924.2,508.8 924.6,507.0 924.9,504.7 925.3,504.3 925.7,504.3 926.0,503.2 926.4,502.2 926.7,500.2 927.1,500.7 927.5,500.6 927.8,501.4 928.2,498.9 928.5,500.2 928.9,503.8 929.3,506.0 929.6,506.8 930.0,509.7 930.3,513.3 930.7,516.1 931.1,521.5 931.4,524.9 931.8,527.0 932.1,534.0 932.5,536.1 932.9,536.0 933.2,539.2 933.6,536.4 934.0,533.5 934.3,528.3 934.7,521.5 935.0,513.8 935.4,509.2 935.8,504.7 936.1,502.6 936.5,500.3 936.8,497.0 937.2,494.7 937.6,496.0 937.9,498.4 938.3,502.9 938.6,509.4 939.0,512.8 939.4,515.9 939.7,519.2 940.1,520.3 940.4,522.6 940.8,524.6 941.2,524.0 941.5,521.2 941.9,521.8 942.2,520.4 942.6,517.5 943.0,516.5 943.3,515.3 943.7,515.8 944.0,511.4 944.4,513.1 944.8,511.4 945.1,510.7 945.5,518.4 945.8,523.8 946.2,524.2 946.6,520.0 946.9,512.5 947.3,505.1 947.6,501.5 948.0,499.8 948.4,497.7 948.7,498.2 949.1,497.5 949.4,496.0 949.8,495.2 950.2,495.3 950.5,497.8 950.9,498.8 951.2,499.6 951.6,501.4 952.0,506.1 952.3,505.0 952.7,507.1 953.0,508.1 953.4,509.5 953.8,510.3 954.1,509.7 954.5,508.9 954.8,511.0 955.2,509.0 955.6,507.8 955.9,506.7 956.3,508.8 956.6,509.0 957.0,509.3 957.4,505.6 957.7,509.7 958.1,512.9 958.4,516.2 958.8,518.7 959.2,522.5 959.5,528.5 959.9,533.1 960.2,536.6 960.6,537.2 961.0,534.6 961.3,527.2 961.7,519.4 962.0,516.7 962.4,514.8 962.8,512.5 963.1,511.5 963.5,509.4 963.8,506.4 964.2,507.1 964.6,509.6 964.9,508.2 965.3,508.8 965.6,507.3 966.0,508.4 966.4,510.0 966.7,511.5 967.1,510.1 967.4,511.4 967.8,512.2 968.2,516.6 968.5,524.2 968.9,528.1 969.3,531.9 969.6,530.9 970.0,527.8 970.3,524.5 970.7,521.7 971.1,520.9 971.4,516.0 971.8,514.9 972.1,512.9 972.5,512.5 972.9,511.2 973.2,512.2 973.6,510.4 973.9,508.8 974.3,510.2 974.7,507.2 975.0,504.6 975.4,502.8 975.7,501.9 976.1,505.1 976.5,504.1 976.8,506.1 977.2,507.3 977.5,506.6 977.9,505.7 978.3,506.5 978.6,508.6 979.0,507.4 979.3,507.3 979.7,506.5" fill="none" stroke="#0066ff" stroke-width="1.4" shape-rendering="crispEdges"/>
<polyline points="19.8,520.4 20.1,519.9 20.5,519.9 20.8,520.1 21.2,520.4 21.6,520.6 21.9,520.7 22.3,521.0 22.6,521.3 23.0,521.8 23.4,522.3 23.7,522.8 24.1,523.0 24.4,523.1 24.8,523.2 25.2,523.2 25.5,523.2 25.9,522.8 26.2,522.8 26.6,523.2 27.0,523.1 27.3,523.0 27.7,522.7 28.0,522.5 28.4,522.3 28.8,522.3 29.1,522.0 29.5,521.6 29.8,521.1 30.2,521.0 30.6,521.0 30.9,521.1 31.3,521.2 31.6,521.1 32.0,520.6 32.4,520.2 32.7,520.0 33.1,520.0 33.5,520.0 33.8,520.3 34.2,520.7 34.5,520.6 34.9,520.4 35.3,520.4 35.6,520.5 36.0,520.5 36.3,520.5 36.7,520.3 37.1,520.3 37.4,520.0 37.8,520.2 38.1,520.4 38.5,520.6 38.9,521.0 39.2,521.3 39.6,521.6 39.9,521.4 40.3,521.4 40.7,521.4 41.0,521.6 41.4,521.7 41.7,521.8 42.1,521.8 42.5,521.7 42.8,521.6 43.2,521.8 43.5,522.1 43.9,522.2 44.3,522.2 44.6,522.1 45.0,522.0 45.3,521.8 45.7,521.3 46.1,521.3 46.4,521.2 46.8,521.1 47.1,521.1 47.5,521.0 47.9,521.1 48.2,521.4 48.6,521.2 48.9,521.0 49.3,521.2 49.7,521.4 50.0,521.7 50.4,521.7 50.7,521.6 51.1,521.5 51.5,521.4 51.8,521.2 52.2,520.7 52.5,520.4 52.9,520.3 53.3,520.5 53.6,520.4 54.0,520.4 54.3,520.5 54.7,521.0 55.1,521.5 55.4,521.9 55.8,522.2 56.1,522.8 56.5,523.6 56.9,524.3 57.2,524.8 57.6,525.1 57.9,525.3 58.3,525.5 58.7,526.0 59.0,526.4 59.4,526.8 59.7,527.6 60.1,528.1 60.5,528.5 60.8,529.0 61.2,529.2 61.5,529.1 61.9,528.8 62.3,528.2 62.6,527.5 63.0,526.7 63.3,526.1 63.7,525.8 64.1,525.4 64.4,524.7 64.8,524.0 65.1,523.4 65.5,523.2 65.9,522.9 66.2,522.6 66.6,522.4 66.9,522.3 67.3,522.0 67.7,521.7 68.0,521.5 68.4,521.7 68.8,521.5 69.1,521.7 69.5,522.0 69.8,522.2 70.2,522.7 70.6,523.2 70.9,523.3 71.3,523.0 71.6,522.8 72.0,522.4 72.4,522.2 72.7,521.9 73.1,521.5 73.4,521.2 73.8,520.7 74.2,520.4 74.5,520.0 74.9,519.8 75.2,519.7 75.6,519.7 76.0,519.6 76.3,519.4 76.7,519.4 77.0,519.4 77.4,519.0 77.8,518.7 78.1,518.5 78.5,518.4 78.8,518.4 79.2,518.9 79.6,519.7 79.9,520.1 80.3,520.2 80.6,520.6 81.0,520.9 81.4,521.2 81.7,521.8 82.1,522.2 82.4,522.5 82.8,522.7 83.2,522.9 83.5,522.9 83.9,523.0 84.2,523.2 84.6,523.3 85.0,522.7 85.3,522.2 85.7,521.9 86.0,521.8 86.4,521.6 86.8,521.8 87.1,522.3 87.5,522.7 87.8,523.4 88.2,524.2 88.6,524.7 88.9,525.2 89.3,525.7 89.6,526.3 90.0,526.5 90.4,526.4 90.7,526.0 91.1,525.4 91.4,524.7 91.8,523.9 92.2,523.2 92.5,522.2 92.9,521.5 93.2,520.8 93.6,520.3 94.0,520.3 94.3,520.1 94.7,519.8 95.0,519.6 95.4,519.4 95.8,519.1 96.1,518.9 96.5,518.7 96.8,518.5 97.2,518.3 97.6,517.7 97.9,517.3 98.3,517.1 98.6,516.9 99.0,517.2 99.4,517.4 99.7,517.7 100.1,517.7 100.4,518.0 100.8,518.1 101.2,518.5 101.5,518.8 101.9,518.8 102.2,518.5 102.6,518.1 103.0,517.7 103.3,517.3 103.7,517.1 104.1,516.9 104.4,516.6 104.8,516.4 105.1,516.6 105.5,516.5 105.9,516.6 106.2,516.6 106.6,516.6 106.9,516.9 107.3,517.2 107.7,517.3 108.0,517.2 108.4,517.1 108.7,517.1 109.1,517.1 109.5,517.0 109.8,516.8 110.2,516.5 110.5,516.7 110.9,516.8 111.3,516.7 111.6,516.8 112.0,517.0 112.3,517.1 112.7,517.0 113.1,516.7 113.4,516.7 113.8,516.6 114.1,516.3 114.5,516.3 114.9,516.1 115.2,516.2 115.6,516.2 115.9,516.1 116.3,516.0 116.7,516.1 117.0,516.5 117.4,516.4 117.7,516.1 118.1,516.1 118.5,516.2 118.8,516.9 119.2,517.5 119.5,517.8 119.9,518.0 120.3,518.3 120.6,518.7 121.0,519.0 121.3,519.3 121.7,519.5 122.1,519.5 122.4,519.4 122.8,519.1 123.1,518.6 123.5,517.8 123.9,516.9 124.2,516.7 124.6,516.7 124.9,516.5 125.3,516.5 125.7,516.6 126.0,517.0 126.4,517.3 126.7,518.0 127.1,518.7 127.5,519.1 127.8,519.6 128.2,520.0 128.5,520.1 128.9,520.1 129.3,519.7 129.6,519.7 130.0,519.6 130.3,519.5 130.7,519.5 131.1,519.6 131.4,519.4 131.8,518.9 132.1,518.6 132.5,518.5 132.9,517.9 133.2,517.6 133.6,517.7 133.9,518.1 134.3,518.2 134.7,518.1 135.0,518.1 135.4,517.9 135.7,517.6 136.1,516.8 136.5,516.5 136.8,516.5 137.2,516.7 137.5,517.1 137.9,517.4 138.3,517.8 138.6,518.1 139.0,517.9 139.3,518.2 139.7,518.8 140.1,519.9 140.4,520.8 140.8,521.9 141.2,522.1 141.5,522.1 141.9,521.7 142.2,520.0 142.6,517.9 143.0,515.8 143.3,513.5 143.7,511.5 144.0,510.0 144.4,508.8 144.8,508.9 145.1,509.7 145.5,510.7 145.8,511.4 146.2,512.0 146.6,512.8 146.9,514.1 147.3,515.6 147.6,516.7 148.0,517.6 148.4,519.2 148.7,520.8 149.1,522.1 149.4,522.9 149.8,523.8 150.2,523.6 150.5,523.5 150.9,523.6 151.2,523.8 151.6,524.1 152.0,524.0 152.3,523.8 152.7,523.9 153.0,523.9 153.4,523.6 153.8,522.8 154.1,522.0 154.5,520.9 154.8,520.0 155.2,518.7 155.6,517.2 155.9,515.7 156.3,514.7 156.6,514.5 157.0,514.0 157.4,513.8 157.7,513.7 158.1,513.6 158.4,514.1 158.8,515.1 159.2,516.4 159.5,518.3 159.9,519.7 160.2,520.9 160.6,521.6 161.0,522.2 161.3,523.0 161.7,523.8 162.0,524.5 162.4,525.7 162.8,527.1 163.1,529.3 163.5,531.7 163.8,533.3 164.2,533.7 164.6,533.1 164.9,531.2 165.3,528.3 165.6,525.3 166.0,523.1 166.4,521.0 166.7,519.8 167.1,519.1 167.4,518.8 167.8,518.3 168.2,518.6 168.5,519.3 168.9,519.9 169.2,521.1 169.6,522.1 170.0,522.5 170.3,522.4 170.7,521.0 171.0,519.2 171.4,517.5 171.8,516.1 172.1,515.7 172.5,515.7 172.8,515.3 173.2,514.6 173.6,514.2 173.9,514.0 174.3,513.9 174.6,513.6 175.0,512.6 175.4,512.6 175.7,512.5 176.1,512.6 176.5,513.1 176.8,513.8 177.2,514.2 177.5,514.0 177.9,513.8 178.3,512.9 178.6,511.8 179.0,511.0 179.3,510.6 179.7,509.9 180.1,509.4 180.4,510.0 180.8,510.7 181.1,511.5 181.5,513.2 181.9,514.6 182.2,515.7 182.6,517.1 182.9,518.0 183.3,519.8 183.7,520.9 184.0,521.2 184.4,521.0 184.7,520.8 185.1,519.5 185.5,517.9 185.8,517.0 186.2,516.6 186.5,516.9 186.9,516.8 187.3,516.3 187.6,515.5 188.0,514.3 188.3,514.0 188.7,513.0 189.1,511.5 189.4,510.3 189.8,509.2 190.1,508.2 190.5,507.5 190.9,506.8 191.2,506.6 191.6,507.1 191.9,508.8 192.3,510.9 192.7,513.2 193.0,515.6 193.4,517.4 193.7,519.5 194.1,521.1 194.5,522.7 194.8,524.5 195.2,527.2 195.5,529.9 195.9,532.5 196.3,534.1 196.6,535.4 197.0,535.5 197.3,533.5 197.7,530.6 198.1,528.3 198.4,524.6 198.8,520.7 199.1,516.9 199.5,514.1 199.9,511.2 200.2,509.9 200.6,510.1 200.9,509.2 201.3,508.1 201.7,507.3 202.0,507.3 202.4,506.6 202.7,506.0 203.1,504.8 203.5,505.2 203.8,505.5 204.2,505.2 204.5,504.5 204.9,504.7 205.3,505.1 205.6,504.4 206.0,502.2 206.3,501.3 206.7,501.9 207.1,503.2 207.4,504.7 207.8,505.5 208.1,504.7 208.5,503.6 208.9,502.9 209.2,502.4 209.6,502.6 209.9,502.3 210.3,502.2 210.7,502.8 211.0,503.7 211.4,504.9 211.7,506.4 212.1,508.5 212.5,512.3 212.8,517.1 213.2,520.9 213.6,523.3 213.9,524.0 214.3,524.0 214.6,523.7 215.0,522.4 215.4,522.6 215.7,522.4 216.1,521.9 216.4,521.4 216.8,520.7 217.2,519.7 217.5,518.1 217.9,516.7 218.2,514.4 218.6,511.7 219.0,510.4 219.3,510.6 219.7,511.2 220.0,513.8 220.4,518.0 220.8,523.0 221.1,528.3 221.5,532.3 221.8,535.0 222.2,536.1 222.6,535.9 222.9,534.3 223.3,532.2 223.6,529.6 224.0,525.9 224.4,522.4 224.7,518.4 225.1,514.8 225.4,513.6 225.8,512.4 226.2,511.0 226.5,510.7 226.9,510.2 227.2,510.5 227.6,511.1 228.0,512.1 228.3,513.0 228.7,514.4 229.0,517.2 229.4,520.7 229.8,524.8 230.1,528.3 230.5,530.0 230.8,529.9 231.2,527.5 231.6,525.3 231.9,523.3 232.3,521.2 232.6,518.5 233.0,516.1 233.4,513.3 233.7,510.5 234.1,507.8 234.4,505.1 234.8,502.9 235.2,501.7 235.5,500.9 235.9,500.9 236.2,501.6 236.6,503.1 237.0,504.0 237.3,503.6 237.7,502.5 238.0,501.6 238.4,502.4 238.8,502.9 239.1,502.4 239.5,500.3 239.8,499.3 240.2,498.2 240.6,498.2 240.9,498.9 241.3,500.4 241.6,500.9 242.0,501.3 242.4,502.6 242.7,503.1 243.1,505.1 243.4,507.1 243.8,509.0 244.2,512.3 244.5,514.8 244.9,516.1 245.2,517.7 245.6,520.2 246.0,521.7 246.3,522.6 246.7,522.6 247.0,522.7 247.4,523.2 247.8,524.2 248.1,524.7 248.5,525.2 248.9,525.5 249.2,524.6 249.6,524.3 249.9,522.8 250.3,521.6 250.7,519.1 251.0,517.6 251.4,515.5 251.7,513.1 252.1,512.5 252.5,511.9 252.8,511.7 253.2,511.3 253.5,509.0 253.9,510.0 254.3,511.5 254.6,511.8 255.0,511.1 255.3,511.2 255.7,511.6 256.1,513.3 256.4,515.3 256.8,516.8 257.1,517.1 257.5,518.5 257.9,522.8 258.2,528.8 258.6,533.4 258.9,537.4 259.3,541.9 259.7,545.7 260.0,550.2 260.4,552.9 260.7,555.6 261.1,557.8 261.5,558.0 261.8,558.4 262.2,558.1 262.5,557.3 262.9,556.9 263.3,554.5 263.6,553.3 264.0,551.0 264.3,546.5 264.7,541.2 265.1,536.8 265.4,532.4 265.8,528.1 266.1,524.9 266.5,520.1 266.9,511.7 267.2,504.0 267.6,496.7 267.9,495.1 268.3,496.0 268.7,495.7 269.0,493.8 269.4,491.4 269.7,489.5 270.1,488.7 270.5,488.0 270.8,488.3 271.2,490.3 271.5,492.6 271.9,494.1 272.3,494.7 272.6,495.7 273.0,495.1 273.3,494.0 273.7,492.1 274.1,491.4 274.4,491.9 274.8,492.7 275.1,494.4 275.5,496.7 275.9,499.1 276.2,499.6 276.6,501.5 276.9,502.7 277.3,503.6 277.7,503.9 278.0,504.6 278.4,505.6 278.7,506.7 279.1,507.3 279.5,507.0 279.8,507.0 280.2,506.8 280.5,506.6 280.9,507.0 281.3,507.8 281.6,508.1 282.0,509.5 282.3,511.5 282.7,512.3 283.1,511.1 283.4,509.8 283.8,508.2 284.2,507.4 284.5,507.9 284.9,508.8 285.2,510.8 285.6,511.8 286.0,512.2 286.3,512.8 286.7,514.0 287.0,513.9 287.4,513.5 287.8,511.9 288.1,509.7 288.5,507.6 288.8,507.3 289.2,507.1 289.6,507.9 289.9,508.8 290.3,510.0 290.6,510.7 291.0,512.2 291.4,514.2 291.7,516.5 292.1,518.7 292.4,519.6 292.8,520.0 293.2,520.9 293.5,522.0 293.9,521.9 294.2,522.1 294.6,523.1 295.0,524.0 295.3,525.2 295.7,525.1 296.0,525.0 296.4,523.9 296.8,522.5 297.1,520.7 297.5,518.1 297.8,514.6 298.2,511.0 298.6,507.5 298.9,504.3 299.3,503.0 299.6,502.1 300.0,503.8 300.4,507.9 300.7,512.5 301.1,516.1 301.4,519.1 301.8,522.3 302.2,525.3 302.5,528.2 302.9,532.0 303.2,535.4 303.6,537.2 304.0,537.0 304.3,536.0 304.7,533.7 305.0,530.6 305.4,527.1 305.8,523.2 306.1,519.8 306.5,517.8 306.8,518.1 307.2,519.2 307.6,519.9 307.9,521.4 308.3,523.0 308.6,524.5 309.0,526.8 309.4,529.6 309.7,531.7 310.1,534.4 310.4,537.2 310.8,540.0 311.2,541.2 311.5,541.1 311.9,540.1 312.2,537.7 312.6,532.6 313.0,525.3 313.3,518.4 313.7,512.9 314.0,508.0 314.4,502.9 314.8,498.1 315.1,494.6 315.5,492.6 315.8,491.9 316.2,492.3 316.6,493.3 316.9,493.3 317.3,492.3 317.6,491.5 318.0,492.4 318.4,494.5 318.7,495.3 319.1,496.1 319.4,497.4 319.8,499.6 320.2,501.3 320.5,502.9 320.9,504.6 321.3,506.3 321.6,509.8 322.0,514.9 322.3,520.3 322.7,525.2 323.1,528.4 323.4,530.0 323.8,532.0 324.1,531.8 324.5,531.1 324.9,531.0 325.2,531.3 325.6,530.9 325.9,531.5 326.3,533.0 326.7,535.4 327.0,537.3 327.4,539.7 327.7,540.3 328.1,539.4 328.5,536.1 328.8,530.9 329.2,526.1 329.5,519.5 329.9,513.4 330.3,506.6 330.6,500.8 331.0,494.9 331.3,491.7 331.7,493.0 332.1,493.6 332.4,496.5 332.8,500.2 333.1,503.9 333.5,508.1 333.9,514.3 334.2,522.4 334.6,530.9 334.9,537.8 335.3,541.6 335.7,542.4 336.0,540.1 336.4,537.0 336.7,534.0 337.1,529.4 337.5,524.3 337.8,521.3 338.2,519.1 338.5,517.9 338.9,518.4 339.3,519.1 339.6,521.9 340.0,523.0 340.3,523.2 340.7,523.4 341.1,523.4 341.4,523.5 341.8,522.9 342.1,520.6 342.5,517.4 342.9,513.9 343.2,510.6 343.6,508.1 343.9,505.6 344.3,502.8 344.7,501.6 345.0,501.1 345.4,501.1 345.7,503.6 346.1,507.3 346.5,512.6 346.8,518.0 347.2,523.2 347.5,525.2 347.9,528.3 348.3,530.8 348.6,531.0 349.0,529.7 349.3,526.2 349.7,522.8 350.1,520.3 350.4,517.8 350.8,517.0 351.1,513.7 351.5,513.6 351.9,514.9 352.2,518.1 352.6,520.7 352.9,522.8 353.3,524.6 353.7,526.7 354.0,529.6 354.4,532.3 354.7,536.9 355.1,542.0 355.5,546.1 355.8,549.1 356.2,551.4 356.6,552.8 356.9,553.2 357.3,552.1 357.6,551.1 358.0,548.9 358.4,547.9 358.7,547.4 359.1,546.5 359.4,545.7 359.8,543.2 360.2,541.6 360.5,538.6 360.9,536.5 361.2,534.5 361.6,533.3 362.0,532.2 362.3,528.8 362.7,527.0 363.0,524.6 363.4,521.8 363.8,522.0 364.1,524.2 364.5,526.6 364.8,530.1 365.2,533.2 365.6,535.9 365.9,537.3 366.3,537.4 366.6,537.1 367.0,536.1 367.4,532.6 367.7,529.7 368.1,526.3 368.4,522.1 368.8,517.2 369.2,513.7 369.5,511.6 369.9,511.2 370.2,511.7 370.6,513.7 371.0,517.4 371.3,520.6 371.7,525.2 372.0,530.1 372.4,533.5 372.8,537.1 373.1,541.9 373.5,544.9 373.8,546.5 374.2,548.4 374.6,550.7 374.9,554.5 375.3,558.1 375.6,560.4 376.0,562.6 376.4,565.3 376.7,566.7 377.1,565.1 377.4,563.1 377.8,559.7 378.2,553.8 378.5,547.7 378.9,541.6 379.2,535.4 379.6,529.7 380.0,523.5 380.3,517.9 380.7,513.6 381.0,509.6 381.4,507.1 381.8,506.5 382.1,505.2 382.5,504.0 382.8,502.9 383.2,502.1 383.6,501.6 383.9,502.8 384.3,504.1 384.6,507.1 385.0,509.3 385.4,511.7 385.7,513.8 386.1,516.6 386.4,518.2 386.8,520.3 387.2,522.3 387.5,524.5 387.9,526.0 388.2,528.1 388.6,530.2 389.0,532.6 389.3,534.8 389.7,536.2 390.0,537.5 390.4,538.4 390.8,539.4 391.1,537.9 391.5,535.8 391.8,534.9 392.2,534.6 392.6,534.3 392.9,534.9 393.3,534.5 393.7,533.1 394.0,532.5 394.4,533.5 394.7,534.5 395.1,535.1 395.5,535.6 395.8,537.1 396.2,538.1 396.5,539.6 396.9,542.8 397.3,545.7 397.6,549.0 398.0,553.5 398.3,558.9 398.7,564.4 399.1,568.1 399.4,569.2 399.8,567.6 400.1,564.6 400.5,559.6 400.9,553.0 401.2,546.9 401.6,540.5 401.9,535.1 402.3,531.2 402.7,527.8 403.0,524.6 403.4,521.4 403.7,517.5 404.1,513.1 404.5,509.6 404.8,507.2 405.2,505.7 405.5,503.9 405.9,502.4 406.3,501.6 406.6,500.2 407.0,500.2 407.3,501.5 407.7,502.5 408.1,503.0 408.4,503.3 408.8,503.5 409.1,505.9 409.5,507.9 409.9,510.2 410.2,512.4 410.6,513.4 410.9,515.1 411.3,516.6 411.7,517.1 412.0,516.9 412.4,517.5 412.7,518.1 413.1,519.2 413.5,521.6 413.8,524.5 414.2,526.3 414.5,529.0 414.9,531.9 415.3,533.9 415.6,534.6 416.0,535.0 416.3,535.5 416.7,535.1 417.1,533.8 417.4,531.9 417.8,530.0 418.1,528.1 418.5,526.7 418.9,524.8 419.2,523.2 419.6,521.2 419.9,519.7 420.3,518.3 420.7,515.7 421.0,513.4 421.4,511.4 421.7,510.5 422.1,511.2 422.5,512.7 422.8,515.6 423.2,517.3 423.5,519.6 423.9,521.3 424.3,523.1 424.6,524.8 425.0,526.9 425.3,529.3 425.7,531.4 426.1,533.9 426.4,534.4 426.8,535.7 427.1,537.3 427.5,538.2 427.9,538.4 428.2,538.4 428.6,538.8 429.0,539.6 429.3,538.5 429.7,537.8 430.0,537.3 430.4,536.5 430.8,535.8 431.1,536.7 431.5,538.8 431.8,542.2 432.2,544.2 432.6,545.7 432.9,547.7 433.3,548.7 433.6,550.7 434.0,552.1 434.4,553.1 434.7,554.9 435.1,558.7 435.4,562.4 435.8,567.2 436.2,571.4 436.5,574.5 436.9,575.0 437.2,572.6 437.6,567.9 438.0,560.4 438.3,553.8 438.7,548.1 439.0,540.8 439.4,533.3 439.8,526.9 440.1,522.0 440.5,518.6 440.8,515.8 441.2,513.5 441.6,514.3 441.9,515.3 442.3,516.8 442.6,519.1 443.0,522.0 443.4,525.5 443.7,528.9 444.1,531.6 444.4,535.1 444.8,537.4 445.2,539.7 445.5,542.4 445.9,544.8 446.2,545.8 446.6,546.6 447.0,546.5 447.3,544.8 447.7,540.6 448.0,535.1 448.4,528.6 448.8,523.1 449.1,518.5 449.5,515.5 449.8,513.9 450.2,511.5 450.6,509.5 450.9,507.3 451.3,507.2 451.6,506.7 452.0,505.6 452.4,505.3 452.7,506.4 453.1,509.1 453.4,512.9 453.8,516.1 454.2,517.8 454.5,519.1 454.9,519.4 455.2,518.5 455.6,518.2 456.0,519.1 456.3,519.9 456.7,522.6 457.0,523.9 457.4,524.8 457.8,524.5 458.1,522.5 458.5,519.5 458.8,517.6 459.2,517.4 459.6,520.6 459.9,522.8 460.3,524.8 460.6,527.4 461.0,531.0 461.4,534.4 461.7,537.9 462.1,540.6 462.4,541.9 462.8,543.5 463.2,544.3 463.5,544.7 463.9,545.1 464.2,543.9 464.6,542.8 465.0,541.8 465.3,540.8 465.7,539.8 466.1,538.2 466.4,535.4 466.8,530.7 467.1,526.6 467.5,521.8 467.9,518.7 468.2,516.2 468.6,515.1 468.9,513.7 469.3,511.1 469.7,508.9 470.0,506.7 470.4,505.2 470.7,504.3 471.1,503.3 471.5,502.4 471.8,502.2 472.2,502.4 472.5,501.8 472.9,501.7 473.3,501.3 473.6,501.1 474.0,501.2 474.3,501.1 474.7,501.2 475.1,501.3 475.4,501.4 475.8,501.4 476.1,501.8 476.5,502.9 476.9,503.2 477.2,503.7 477.6,503.9 477.9,504.1 478.3,503.9 478.7,504.3 479.0,506.0 479.4,508.0 479.7,509.8 480.1,511.2 480.5,512.6 480.8,513.2 481.2,514.1 481.5,515.4 481.9,516.3 482.3,517.4 482.6,518.4 483.0,519.2 483.3,519.8 483.7,520.2 484.1,520.4 484.4,521.1 484.8,522.1 485.1,522.0 485.5,521.5 485.9,520.0 486.2,518.6 486.6,517.7 486.9,516.8 487.3,516.2 487.7,515.4 488.0,514.7 488.4,515.6 488.7,516.2 489.1,516.3 489.5,517.2 489.8,517.6 490.2,518.4 490.5,519.0 490.9,519.5 491.3,519.6 491.6,519.5 492.0,519.5 492.3,519.6 492.7,519.3 493.1,518.9 493.4,518.3 493.8,517.5 494.1,517.1 494.5,516.8 494.9,516.2 495.2,515.5 495.6,514.7 495.9,514.9 496.3,515.4 496.7,515.4 497.0,514.1 497.4,512.7 497.7,511.1 498.1,510.2 498.5,509.2 498.8,509.3 499.2,509.5 499.5,510.4 499.9,511.0 500.3,510.9 500.6,510.0 501.0,508.9 501.4,507.7 501.7,506.4 502.1,505.2 502.4,504.5 502.8,504.6 503.2,504.6 503.5,504.9 503.9,505.5 504.2,505.8 504.6,506.1 505.0,507.1 505.3,507.8 505.7,508.6 506.0,509.3 506.4,509.5 506.8,509.9 507.1,510.6 507.5,511.7 507.8,512.9 508.2,514.0 508.6,514.5 508.9,514.5 509.3,515.1 509.6,516.4 510.0,517.7 510.4,518.7 510.7,520.2 511.1,521.9 511.4,524.1 511.8,526.2 512.2,528.4 512.5,530.1 512.9,530.9 513.2,531.4 513.6,531.3 514.0,530.3 514.3,529.0 514.7,527.9 515.0,526.4 515.4,525.2 515.8,524.7 516.1,524.2 516.5,524.5 516.8,525.7 517.2,526.1 517.6,526.7 517.9,527.3 518.3,528.1 518.6,529.3 519.0,530.1 519.4,529.8 519.7,529.1 520.1,528.4 520.4,526.3 520.8,524.9 521.2,522.8 521.5,521.4 521.9,520.0 522.2,519.6 522.6,519.3 523.0,518.5 523.3,516.9 523.7,516.0 524.0,516.0 524.4,516.1 524.8,516.5 525.1,517.7 525.5,519.5 525.8,521.5 526.2,523.2 526.6,525.3 526.9,527.0 527.3,528.1 527.6,529.1 528.0,530.8 528.4,532.2 528.7,533.2 529.1,534.6 529.4,535.4 529.8,535.7 530.2,535.1 530.5,533.3 530.9,530.8 531.2,528.0 531.6,525.4 532.0,523.1 532.3,521.4 532.7,520.2 533.0,519.1 533.4,518.1 533.8,516.8 534.1,515.7 534.5,515.0 534.8,514.2 535.2,513.7 535.6,513.6 535.9,513.7 536.3,514.2 536.7,515.2 537.0,516.6 537.4,518.2 537.7,519.1 538.1,519.9 538.5,521.2 538.8,522.4 539.2,522.4 539.5,521.0 539.9,519.1 540.3,516.9 540.6,514.3 541.0,512.1 541.3,510.3 541.7,508.8 542.1,508.3 542.4,508.6 542.8,508.4 543.1,508.1 543.5,507.7 543.9,507.9 544.2,508.6 544.6,509.1 544.9,508.8 545.3,508.9 545.7,508.3 546.0,508.1 546.4,508.3 546.7,509.1 547.1,509.6 547.5,511.2 547.8,512.8 548.2,514.4 548.5,516.4 548.9,518.3 549.3,520.5 549.6,521.4 550.0,522.7 550.3,523.6 550.7,524.0 551.1,523.3 551.4,522.6 551.8,521.5 552.1,521.1 552.5,520.7 552.9,519.9 553.2,520.6 553.6,522.1 553.9,524.0 554.3,525.2 554.7,525.2 555.0,524.5 555.4,522.8 555.7,519.9 556.1,517.9 556.5,517.1 556.8,516.9 557.2,517.3 557.5,517.5 557.9,518.1 558.3,519.5 558.6,521.2 559.0,523.4 559.3,525.6 559.7,527.8 560.1,529.9 560.4,531.2 560.8,532.7 561.1,533.6 561.5,534.4 561.9,534.9 562.2,534.7 562.6,533.2 562.9,531.3 563.3,529.5 563.7,527.7 564.0,525.5 564.4,523.2 564.7,520.8 565.1,519.0 565.5,517.6 565.8,516.8 566.2,516.4 566.5,516.4 566.9,516.6 567.3,516.3 567.6,515.9 568.0,515.2 568.3,514.3 568.7,513.6 569.1,512.8 569.4,512.7 569.8,513.6 570.1,514.3 570.5,515.0 570.9,514.9 571.2,514.8 571.6,514.3 571.9,514.1 572.3,513.7 572.7,513.1 573.0,513.0 573.4,513.0 573.8,513.8 574.1,514.1 574.5,514.2 574.8,515.3 575.2,516.2 575.6,517.1 575.9,517.8 576.3,519.0 576.6,519.7 577.0,520.8 577.4,521.7 577.7,522.6 578.1,522.8 578.4,523.1 578.8,523.6 579.2,524.2 579.5,523.5 579.9,522.9 580.2,522.6 580.6,523.0 581.0,523.7 581.3,524.7 581.7,526.1 582.0,527.7 582.4,529.1 582.8,530.9 583.1,533.1 583.5,534.8 583.8,535.2 584.2,533.9 584.6,532.0 584.9,529.5 585.3,526.9 585.6,523.7 586.0,520.7 586.4,518.1 586.7,516.1 587.1,514.1 587.4,512.0 587.8,510.6 588.2,509.9 588.5,509.7 588.9,509.7 589.2,509.9 589.6,510.7 590.0,511.0 590.3,511.0 590.7,511.2 591.0,511.4 591.4,512.3 591.8,512.9 592.1,513.7 592.5,514.1 592.8,514.4 593.2,515.2 593.6,515.8 593.9,516.1 594.3,516.0 594.6,516.0 595.0,515.8 595.4,514.9 595.7,514.6 596.1,514.8 596.4,515.5 596.8,516.3 597.2,517.2 597.5,517.9 597.9,518.3 598.2,517.9 598.6,517.5 599.0,517.5 599.3,517.6 599.7,517.8 600.0,517.9 600.4,518.1 600.8,518.4 601.1,518.2 601.5,517.7 601.8,517.3 602.2,516.9 602.6,516.7 602.9,516.5 603.3,517.4 603.6,517.8 604.0,518.8 604.4,518.8 604.7,518.8 605.1,519.1 605.4,519.1 605.8,518.6 606.2,518.2 606.5,518.1 606.9,518.1 607.2,518.0 607.6,517.9 608.0,518.1 608.3,517.1 608.7,516.9 609.1,517.0 609.4,517.8 609.8,519.2 610.1,520.8 610.5,523.5 610.9,525.5 611.2,528.1 611.6,530.6 611.9,532.8 612.3,534.6 612.7,537.0 613.0,539.4 613.4,541.3 613.7,541.5 614.1,541.0 614.5,539.1 614.8,536.5 615.2,533.4 615.5,530.9 615.9,528.8 616.3,527.9 616.6,527.8 617.0,527.9 617.3,528.0 617.7,528.3 618.1,527.5 618.4,526.2 618.8,524.7 619.1,522.5 619.5,521.2 619.9,519.7 620.2,517.5 620.6,515.8 620.9,514.5 621.3,513.4 621.7,513.1 622.0,512.8 622.4,512.8 622.7,512.2 623.1,512.0 623.5,511.6 623.8,511.4 624.2,511.1 624.5,510.9 624.9,510.4 625.3,509.6 625.6,508.8 626.0,507.6 626.3,506.7 626.7,506.1 627.1,505.7 627.4,504.6 627.8,504.0 628.1,504.5 628.5,504.8 628.9,505.5 629.2,506.4 629.6,506.5 629.9,507.3 630.3,507.4 630.7,507.8 631.0,508.1 631.4,507.9 631.7,507.5 632.1,507.7 632.5,508.0 632.8,509.0 633.2,509.9 633.5,510.7 633.9,511.4 634.3,511.9 634.6,512.5 635.0,513.5 635.3,513.5 635.7,512.9 636.1,513.1 636.4,513.3 636.8,513.6 637.1,513.2 637.5,513.4 637.9,514.2 638.2,515.1 638.6,515.9 638.9,517.0 639.3,518.0 639.7,518.7 640.0,518.4 640.4,517.9 640.7,517.7 641.1,516.9 641.5,516.3 641.8,515.5 642.2,514.5 642.5,513.2 642.9,512.2 643.3,511.9 643.6,512.6 644.0,513.3 644.4,514.0 644.7,514.9 645.1,517.5 645.4,520.9 645.8,524.1 646.2,527.6 646.5,531.1 646.9,533.3 647.2,534.5 647.6,534.0 648.0,532.9 648.3,531.6 648.7,528.8 649.0,525.2 649.4,522.8 649.8,520.8 650.1,518.0 650.5,515.5 650.8,513.2 651.2,510.7 651.6,508.5 651.9,506.3 652.3,505.5 652.6,504.4 653.0,503.6 653.4,502.9 653.7,502.5 654.1,502.4 654.4,503.2 654.8,503.9 655.2,503.8 655.5,504.0 655.9,505.3 656.2,506.1 656.6,506.8 657.0,507.9 657.3,509.1 657.7,510.4 658.0,512.3 658.4,513.7 658.8,514.2 659.1,514.4 659.5,514.0 659.8,514.2 660.2,515.0 660.6,516.4 660.9,517.4 661.3,518.3 661.6,518.5 662.0,518.8 662.4,518.8 662.7,518.6 663.1,518.4 663.4,516.2 663.8,516.2 664.2,516.6 664.5,519.4 664.9,521.9 665.2,526.0 665.6,529.1 666.0,533.7 666.3,538.8 666.7,543.9 667.0,547.0 667.4,549.7 667.8,550.9 668.1,549.9 668.5,546.2 668.8,540.6 669.2,535.5 669.6,530.3 669.9,526.8 670.3,524.0 670.6,520.3 671.0,516.7 671.4,513.2 671.7,509.9 672.1,507.7 672.4,506.0 672.8,504.1 673.2,503.5 673.5,503.2 673.9,503.5 674.2,506.5 674.6,508.4 675.0,511.2 675.3,514.2 675.7,518.6 676.0,521.8 676.4,523.2 676.8,524.2 677.1,524.4 677.5,527.2 677.8,529.7 678.2,531.5 678.6,533.1 678.9,534.1 679.3,536.3 679.6,537.3 680.0,536.4 680.4,535.1 680.7,531.6 681.1,528.4 681.5,526.3 681.8,526.4 682.2,527.6 682.5,527.6 682.9,528.9 683.3,532.6 683.6,536.6 684.0,540.0 684.3,541.8 684.7,543.8 685.1,545.0 685.4,545.9 685.8,546.5 686.1,549.8 686.5,552.1 686.9,554.1 687.2,555.2 687.6,554.2 687.9,551.9 688.3,547.8 688.7,544.1 689.0,541.3 689.4,537.1 689.7,533.8 690.1,531.8 690.5,528.6 690.8,523.9 691.2,522.4 691.5,523.5 691.9,527.6 692.3,532.8 692.6,538.5 693.0,541.2 693.3,543.4 693.7,543.9 694.1,542.5 694.4,538.4 694.8,534.1 695.1,529.0 695.5,524.9 695.9,519.6 696.2,515.1 696.6,512.6 696.9,510.0 697.3,509.5 697.7,509.7 698.0,507.8 698.4,507.1 698.7,508.0 699.1,507.6 699.5,507.0 699.8,507.2 700.2,507.4 700.5,507.7 700.9,508.4 701.3,508.8 701.6,509.8 702.0,511.4 702.3,513.2 702.7,515.1 703.1,518.6 703.4,521.5 703.8,526.9 704.1,532.3 704.5,537.7 704.9,540.8 705.2,543.0 705.6,546.8 705.9,551.3 706.3,554.2 706.7,556.8 707.0,558.7 707.4,559.2 707.7,557.0 708.1,552.8 708.5,549.4 708.8,547.3 709.2,544.5 709.5,542.2 709.9,540.0 710.3,536.2 710.6,532.6 711.0,528.5 711.3,527.0 711.7,529.2 712.1,531.3 712.4,527.3 712.8,523.7 713.1,521.3 713.5,523.4 713.9,527.2 714.2,529.9 714.6,529.2 714.9,531.8 715.3,533.2 715.7,536.8 716.0,539.1 716.4,539.9 716.8,545.4 717.1,552.4 717.5,555.0 717.8,557.5 718.2,560.7 718.6,565.3 718.9,577.1 719.3,586.8 719.6,593.5 720.0,597.7 720.4,595.9 720.7,596.1 721.1,599.3 721.4,599.0 721.8,591.0 722.2,580.5 722.5,572.4 722.9,574.3 723.2,580.2 723.6,585.7 724.0,585.9 724.3,581.4 724.7,577.4 725.0,574.0 725.4,567.6 725.8,558.1 726.1,549.6 726.5,542.3 726.8,535.1 727.2,528.0 727.6,520.9 727.9,517.1 728.3,514.2 728.6,513.5 729.0,514.3 729.4,515.2 729.7,515.9 730.1,517.3 730.4,521.7 730.8,527.7 731.2,534.9 731.5,539.9 731.9,542.8 732.2,543.2 732.6,539.9 733.0,536.1 733.3,533.6 733.7,532.6 734.0,533.4 734.4,535.1 734.8,538.4 735.1,543.8 735.5,549.8 735.8,553.7 736.2,557.0 736.6,560.3 736.9,563.3 737.3,564.3 737.6,564.2 738.0,562.6 738.4,557.9 738.7,551.5 739.1,544.4 739.4,538.1 739.8,530.6 740.2,523.6 740.5,516.7 740.9,511.1 741.2,507.4 741.6,504.2 742.0,501.5 742.3,500.6 742.7,499.0 743.0,499.2 743.4,497.7 743.8,496.5 744.1,497.1 744.5,497.3 744.8,498.0 745.2,498.3 745.6,498.2 745.9,498.0 746.3,497.8 746.6,498.2 747.0,498.6 747.4,498.8 747.7,498.5 748.1,498.8 748.4,499.1 748.8,499.1 749.2,499.9 749.5,501.1 749.9,504.2 750.2,508.7 750.6,512.0 751.0,515.0 751.3,518.5 751.7,521.9 752.0,524.9 752.4,527.3 752.8,528.9 753.1,529.3 753.5,527.7 753.9,524.1 754.2,519.6 754.6,514.4 754.9,509.9 755.3,506.5 755.7,503.4 756.0,501.2 756.4,500.1 756.7,499.0 757.1,498.3 757.5,498.5 757.8,499.7 758.2,501.0 758.5,502.3 758.9,503.0 759.3,503.7 759.6,504.0 760.0,503.8 760.3,503.4 760.7,503.4 761.1,504.0 761.4,503.6 761.8,502.9 762.1,503.0 762.5,503.3 762.9,503.1 763.2,502.5 763.6,502.6 763.9,502.8 764.3,503.1 764.7,503.9 765.0,504.4 765.4,505.1 765.7,505.6 766.1,506.9 766.5,508.3 766.8,510.4 767.2,512.0 767.5,512.6 767.9,513.4 768.3,514.7 768.6,516.0 769.0,516.4 769.3,516.4 769.7,515.5 770.1,514.9 770.4,514.3 770.8,513.5 771.1,513.2 771.5,513.1 771.9,513.4 772.2,513.4 772.6,513.8 772.9,513.1 773.3,512.9 773.7,513.8 774.0,514.8 774.4,515.4 774.7,515.0 775.1,514.3 775.5,513.6 775.8,513.3 776.2,513.5 776.5,513.6 776.9,514.7 777.3,518.3 777.6,522.6 778.0,526.8 778.3,530.6 778.7,532.3 779.1,532.8 779.4,532.9 779.8,531.5 780.1,529.4 780.5,527.4 780.9,525.6 781.2,523.7 781.6,522.1 781.9,521.5 782.3,520.4 782.7,518.0 783.0,516.1 783.4,514.4 783.7,513.2 784.1,511.5 784.5,510.3 784.8,509.2 785.2,508.3 785.5,506.3 785.9,504.6 786.3,503.1 786.6,502.7 787.0,501.5 787.3,501.2 787.7,501.6 788.1,502.0 788.4,502.3 788.8,504.5 789.2,507.5 789.5,510.8 789.9,515.5 790.2,520.8 790.6,526.3 791.0,531.6 791.3,536.3 791.7,542.0 792.0,547.3 792.4,550.8 792.8,552.7 793.1,552.3 793.5,552.1 793.8,551.2 794.2,549.2 794.6,546.1 794.9,541.9 795.3,536.5 795.6,531.5 796.0,529.3 796.4,529.8 796.7,530.7 797.1,533.4 797.4,535.3 797.8,536.3 798.2,536.4 798.5,535.6 798.9,533.5 799.2,531.2 799.6,527.7 800.0,524.4 800.3,521.2 800.7,519.9 801.0,518.3 801.4,515.7 801.8,513.0 802.1,512.2 802.5,513.5 802.8,516.5 803.2,520.2 803.6,524.2 803.9,528.0 804.3,531.7 804.6,534.2 805.0,534.7 805.4,532.7 805.7,529.0 806.1,524.4 806.4,519.9 806.8,515.8 807.2,512.3 807.5,509.0 807.9,506.7 808.2,504.9 808.6,503.4 809.0,503.0 809.3,502.7 809.7,502.4 810.0,501.8 810.4,501.6 810.8,502.1 811.1,503.7 811.5,504.5 811.8,505.4 812.2,506.1 812.6,507.0 812.9,507.9 813.3,509.1 813.6,509.9 814.0,510.5 814.4,509.8 814.7,509.9 815.1,510.9 815.4,511.8 815.8,511.9 816.2,511.2 816.5,510.2 816.9,509.1 817.2,507.8 817.6,506.8 818.0,504.7 818.3,503.6 818.7,503.0 819.0,502.4 819.4,502.5 819.8,502.3 820.1,501.0 820.5,500.7 820.8,499.9 821.2,499.5 821.6,500.5 821.9,502.1 822.3,502.9 822.6,503.2 823.0,503.4 823.4,503.9 823.7,504.3 824.1,505.4 824.5,506.7 824.8,506.8 825.2,507.3 825.5,508.6 825.9,509.6 826.3,510.7 826.6,513.0 827.0,516.9 827.3,520.6 827.7,523.8 828.1,527.5 828.4,530.5 828.8,531.0 829.1,530.7 829.5,529.5 829.9,527.5 830.2,525.7 830.6,522.9 830.9,520.9 831.3,517.9 831.7,514.8 832.0,512.1 832.4,510.4 832.7,509.4 833.1,508.3 833.5,508.1 833.8,508.3 834.2,508.1 834.5,507.5 834.9,508.3 835.3,509.5 835.6,511.9 836.0,513.5 836.3,515.7 836.7,518.7 837.1,521.9 837.4,524.6 837.8,525.9 838.1,527.5 838.5,530.0 838.9,531.8 839.2,533.2 839.6,534.4 839.9,536.3 840.3,536.8 840.7,535.2 841.0,532.8 841.4,529.5 841.7,525.8 842.1,522.1 842.5,518.7 842.8,515.9 843.2,513.3 843.5,514.2 843.9,513.6 844.3,515.5 844.6,517.1 845.0,519.2 845.3,522.1 845.7,527.7 846.1,538.2 846.4,552.0 846.8,562.2 847.1,566.6 847.5,568.1 847.9,568.8 848.2,568.9 848.6,565.8 848.9,558.8 849.3,551.9 849.7,544.2 850.0,538.3 850.4,536.6 850.7,538.1 851.1,537.8 851.5,534.4 851.8,533.6 852.2,536.7 852.5,538.1 852.9,541.9 853.3,545.5 853.6,548.4 854.0,547.3 854.3,543.2 854.7,537.3 855.1,529.9 855.4,520.0 855.8,511.0 856.1,505.6 856.5,499.2 856.9,495.5 857.2,494.0 857.6,492.8 857.9,496.7 858.3,500.5 858.7,502.9 859.0,504.6 859.4,508.1 859.7,513.8 860.1,521.1 860.5,527.7 860.8,530.5 861.2,527.9 861.6,520.6 861.9,514.9 862.3,511.3 862.6,508.8 863.0,508.0 863.4,510.0 863.7,512.3 864.1,513.4 864.4,514.0 864.8,513.4 865.2,512.5 865.5,511.6 865.9,509.4 866.2,507.7 866.6,506.0 867.0,504.8 867.3,503.7 867.7,502.8 868.0,502.2 868.4,502.3 868.8,502.9 869.1,503.5 869.5,503.4 869.8,503.1 870.2,503.4 870.6,503.9 870.9,504.7 871.3,505.3 871.6,505.8 872.0,506.9 872.4,508.0 872.7,508.0 873.1,508.1 873.4,508.4 873.8,508.2 874.2,507.8 874.5,507.5 874.9,507.1 875.2,507.4 875.6,508.6 876.0,509.4 876.3,509.6 876.7,510.6 877.0,510.8 877.4,510.2 877.8,510.6 878.1,511.6 878.5,512.4 878.8,513.9 879.2,514.6 879.6,516.1 879.9,517.5 880.3,519.4 880.6,521.9 881.0,523.9 881.4,526.2 881.7,528.9 882.1,531.5 882.4,533.1 882.8,535.2 883.2,537.8 883.5,539.8 883.9,542.4 884.2,544.4 884.6,546.0 885.0,546.9 885.3,545.9 885.7,543.6 886.0,540.3 886.4,536.0 886.8,532.0 887.1,529.0 887.5,527.0 887.8,525.9 888.2,524.5 888.6,523.1 888.9,521.1 889.3,517.5 889.6,514.3 890.0,512.0 890.4,510.5 890.7,510.2 891.1,509.8 891.4,509.9 891.8,509.5 892.2,509.3 892.5,509.2 892.9,508.6 893.2,508.8 893.6,508.9 894.0,508.7 894.3,508.1 894.7,507.9 895.0,507.9 895.4,507.3 895.8,506.7 896.1,505.4 896.5,503.5 896.9,502.9 897.2,502.9 897.6,503.6 897.9,504.3 898.3,505.0 898.7,505.7 899.0,506.4 899.4,507.8 899.7,509.5 900.1,511.0 900.5,512.7 900.8,514.6 901.2,515.5 901.5,517.1 901.9,519.1 902.3,520.4 902.6,522.1 903.0,523.6 903.3,525.4 903.7,527.5 904.1,529.8 904.4,532.2 904.8,534.8 905.1,536.7 905.5,538.2 905.9,538.4 906.2,537.0 906.6,534.9 906.9,531.7 907.3,528.2 907.7,525.1 908.0,522.4 908.4,519.8 908.7,517.6 909.1,515.7 909.5,514.2 909.8,512.8 910.2,511.8 910.5,511.0 910.9,510.3 911.3,508.9 911.6,508.4 912.0,507.6 912.3,507.1 912.7,506.5 913.1,506.1 913.4,505.7 913.8,505.8 914.1,505.6 914.5,505.9 914.9,506.7 915.2,507.3 915.6,507.7 915.9,508.2 916.3,509.0 916.7,509.4 917.0,509.1 917.4,508.6 917.7,507.9 918.1,507.8 918.5,507.0 918.8,506.7 919.2,506.5 919.5,506.8 919.9,507.5 920.3,508.4 920.6,509.4 921.0,510.8 921.3,512.1 921.7,512.7 922.1,513.2 922.4,514.0 922.8,513.2 923.1,512.8 923.5,513.1 923.9,512.8 924.2,511.4 924.6,509.8 924.9,508.2 925.3,507.0 925.7,506.1 926.0,505.0 926.4,503.9 926.7,502.7 927.1,502.1 927.5,501.5 927.8,501.2 928.2,500.5 928.5,500.4 928.9,501.2 929.3,502.7 929.6,504.0 930.0,505.6 930.3,508.2 930.7,510.6 931.1,514.2 931.4,517.7 931.8,521.0 932.1,524.8 932.5,528.5 932.9,531.2 933.2,534.1 933.6,535.0 934.0,534.7 934.3,532.5 934.7,529.0 935.0,524.0 935.4,519.0 935.8,514.1 936.1,510.0 936.5,506.6 936.8,503.6 937.2,500.5 937.6,498.7 937.9,498.3 938.3,500.1 938.6,502.8 939.0,505.9 939.4,509.3 939.7,512.6 940.1,515.2 940.4,517.6 940.8,520.1 941.2,521.4 941.5,521.5 941.9,521.5 942.2,521.2 942.6,520.0 943.0,518.9 943.3,517.6 943.7,516.6 944.0,515.2 944.4,514.4 944.8,513.5 945.1,512.4 945.5,514.0 945.8,517.1 946.2,520.0 946.6,520.4 946.9,518.2 947.3,514.1 947.6,509.8 948.0,506.4 948.4,503.5 948.7,501.9 949.1,500.2 949.4,498.9 949.8,497.5 950.2,496.6 950.5,496.8 950.9,497.8 951.2,498.4 951.6,499.4 952.0,501.5 952.3,503.0 952.7,504.4 953.0,505.9 953.4,507.1 953.8,508.1 954.1,508.8 954.5,508.9 954.8,509.7 955.2,509.6 955.6,509.0 955.9,508.3 956.3,508.0 956.6,508.3 957.0,508.6 957.4,508.0 957.7,508.2 958.1,509.7 958.4,511.6 958.8,514.0 959.2,516.6 959.5,520.5 959.9,524.8 960.2,528.9 960.6,532.1 961.0,533.5 961.3,532.0 961.7,528.0 962.0,524.2 962.4,521.1 962.8,518.1 963.1,515.7 963.5,513.7 963.8,511.1 964.2,509.4 964.6,509.3 964.9,509.0 965.3,508.9 965.6,508.4 966.0,508.4 966.4,508.6 966.7,509.7 967.1,510.0 967.4,510.6 967.8,511.0 968.2,512.4 968.5,516.0 968.9,519.9 969.3,524.1 969.6,526.6 970.0,527.3 970.3,526.5 970.7,525.1 971.1,523.7 971.4,521.3 971.8,519.3 972.1,517.1 972.5,515.5 972.9,514.0 973.2,513.2 973.6,512.4 973.9,511.1 974.3,510.6 974.7,509.9 975.0,508.2 975.4,506.5 975.7,505.2 976.1,504.9 976.5,504.5 976.8,504.8 977.2,505.5 977.5,506.0 977.9,506.1 978.3,506.2 978.6,506.7 979.0,507.1 979.3,507.5 979.7,507.1" fill="none" stroke="#993333" stroke-width="1" shape-rendering="crispEdges"/></svg>
</body></html>
